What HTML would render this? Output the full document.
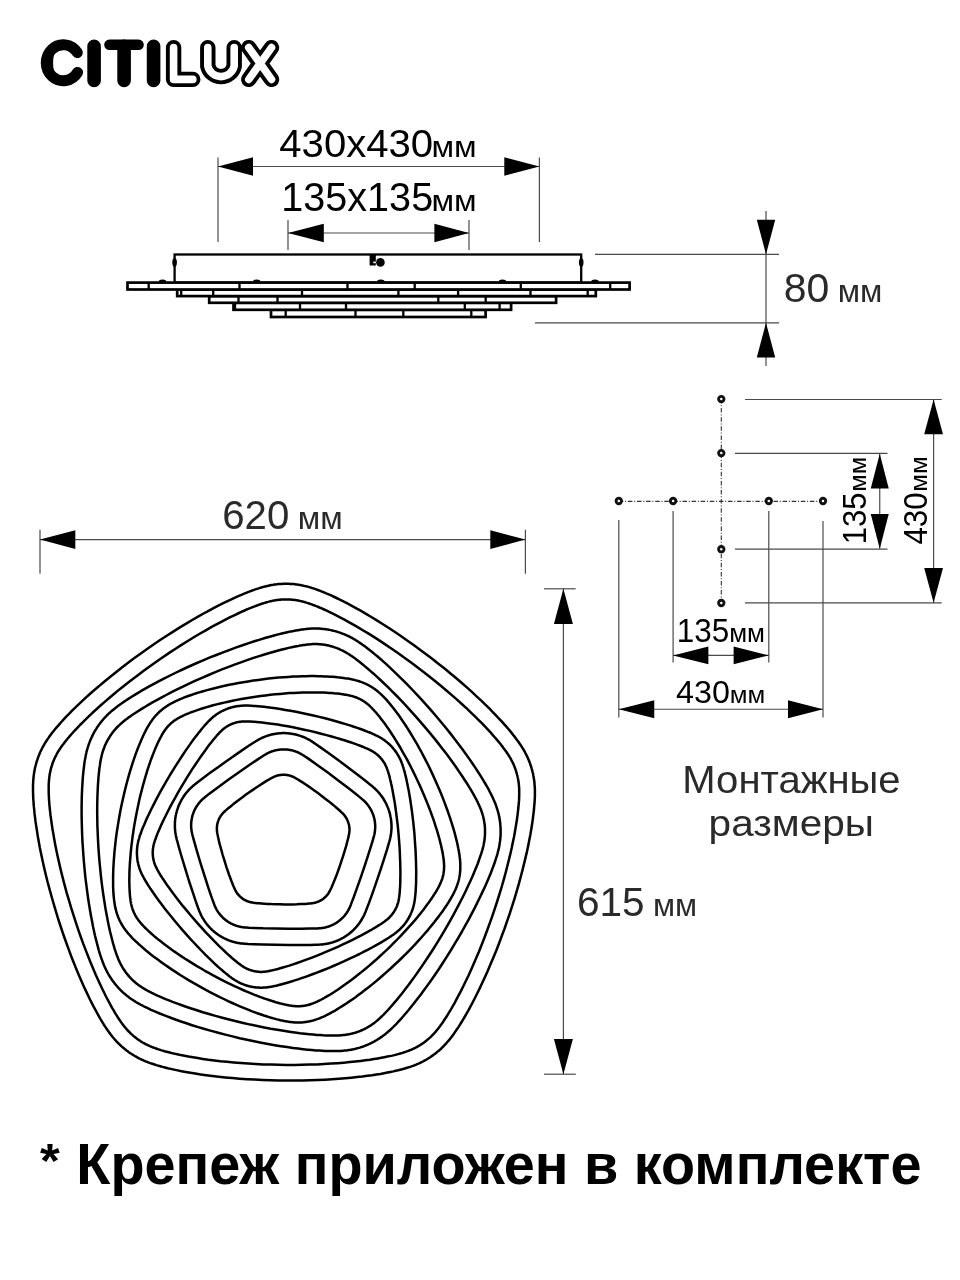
<!DOCTYPE html>
<html><head><meta charset="utf-8"><style>
html,body{margin:0;padding:0;background:#fff;}
svg{display:block;font-family:"Liberation Sans", sans-serif;}
text{-webkit-font-smoothing:antialiased;}
svg{will-change:transform;}
</style></head><body>
<svg width="960" height="1280" viewBox="0 0 960 1280">
<rect width="960" height="1280" fill="#fff"/>
<g stroke="#000" stroke-linecap="round" stroke-linejoin="round" fill="none">
<path d="M77.3 52.6 A17 18 0 1 0 77.6 72.4" stroke-width="11"/><path d="M52.6 54 Q50.6 63 52.6 72" stroke-width="3"/>
<path d="M94.1 46.4V80.4M124.1 46.4V80.4M153.6 46.4V80.4" stroke-width="13.6"/><path d="M109.5 44.8H138.5" stroke-width="10.6"/>
<path d="M173.6 47.6V79.4H192.8M207.8 47.6V66A13.5 13.4 0 0 0 234.2 66V47.6M248.8 47.6L271.5 79.4M271.5 47.6L248.8 79.4" stroke-width="15.4"/>
<path d="M173.6 47.6V79.4H192.8M207.8 47.6V66A13.5 13.4 0 0 0 234.2 66V47.6M248.8 47.6L271.5 79.4M271.5 47.6L248.8 79.4" stroke="#fff" stroke-width="7.6"/>
</g>
<line x1="218" y1="157.5" x2="218" y2="242" stroke="#4a4a4a" stroke-width="1.2"/>
<line x1="539.4" y1="157.5" x2="539.4" y2="242" stroke="#4a4a4a" stroke-width="1.2"/>
<line x1="218" y1="166.5" x2="539.4" y2="166.5" stroke="#4a4a4a" stroke-width="1.2"/>
<path d="M218 166.5L253.00 175.70L253.00 157.30Z" fill="#000"/>
<path d="M539.4 166.5L504.30 157.30L504.30 175.70Z" fill="#000"/>
<line x1="288" y1="220" x2="288" y2="250" stroke="#4a4a4a" stroke-width="1.2"/>
<line x1="469" y1="220" x2="469" y2="250" stroke="#4a4a4a" stroke-width="1.2"/>
<line x1="288" y1="233" x2="469" y2="233" stroke="#4a4a4a" stroke-width="1.2"/>
<path d="M288 233L323.80 242.20L323.80 223.80Z" fill="#000"/>
<path d="M469 233L434.40 223.80L434.40 242.20Z" fill="#000"/>
<text x="-2.50" y="0" font-size="100" fill="#000" font-weight="normal" transform="translate(280.30 157.10) scale(0.4011 0.3929)">430x430</text>
<text x="-7.00" y="0" font-size="100" fill="#000" font-weight="normal" transform="translate(433.80 157.10) scale(0.3290 0.2887)">мм</text>
<text x="-7.50" y="0" font-size="100" fill="#000" font-weight="normal" transform="translate(284.20 211.20) scale(0.3960 0.4029)">135x135</text>
<text x="-7.00" y="0" font-size="100" fill="#000" font-weight="normal" transform="translate(433.80 211.20) scale(0.3290 0.2943)">мм</text>
<g stroke="#000" stroke-width="2.7" fill="#fff">
<rect x="174.6" y="254.5" width="406.6" height="28.1" stroke-width="2.3"/>
<rect x="271.0" y="309.8" width="214.6" height="7.2"/>
<rect x="233.5" y="302.8" width="277.6" height="7.0"/>
<rect x="209.2" y="296.1" width="346.9" height="6.7"/>
<rect x="177.2" y="289.5" width="418.6" height="6.6"/>
<rect x="127.5" y="282.6" width="502.1" height="6.9"/>
</g>
<path d="M148.7 282.6V289.5M239.5 282.6V289.5M347.5 282.6V289.5M414.7 282.6V289.5M520.8 282.6V289.5M610.2 282.6V289.5M181.2 289.5V296.1M213.2 289.5V296.1M302 289.5V296.1M398.4 289.5V296.1M458.1 289.5V296.1M530.5 289.5V296.1M587.7 289.5V296.1M238.5 296.1V302.8M277.5 296.1V302.8M438.3 296.1V302.8M485.7 296.1V302.8M235 302.8V309.8M300 302.8V309.8M346 302.8V309.8M464.8 302.8V309.8M499.6 302.8V309.8M285.7 309.8V317.0M355.5 309.8V317.0M403.3 309.8V317.0M471.3 309.8V317.0" stroke="#000" stroke-width="2.3" fill="none"/>
<path d="M158.3 282.8A4.2 3.4 0 0 1 166.7 282.8Z" fill="#000"/>
<path d="M252.5 282.8A4.2 3.4 0 0 1 260.9 282.8Z" fill="#000"/>
<path d="M376.6 282.8A4.2 3.4 0 0 1 385.0 282.8Z" fill="#000"/>
<path d="M498.3 282.8A4.2 3.4 0 0 1 506.7 282.8Z" fill="#000"/>
<path d="M590.8 282.8A4.2 3.4 0 0 1 599.2 282.8Z" fill="#000"/>
<ellipse cx="174.6" cy="262.5" rx="2.3" ry="4.2" fill="#000"/>
<ellipse cx="581.2" cy="262.5" rx="2.3" ry="4.2" fill="#000"/>
<rect x="369.6" y="255" width="6.2" height="10.5" fill="#000"/><circle cx="380.4" cy="262.4" r="4.3" fill="#000"/><rect x="373.2" y="261.6" width="2.6" height="1.6" fill="#fff"/>
<line x1="595" y1="254.4" x2="779" y2="254.4" stroke="#4a4a4a" stroke-width="1.2"/>
<line x1="535" y1="322.8" x2="779" y2="322.8" stroke="#4a4a4a" stroke-width="1.2"/>
<line x1="766" y1="211" x2="766" y2="366" stroke="#4a4a4a" stroke-width="1.2"/>
<path d="M766 254.4L775.20 219.70L756.80 219.70Z" fill="#000"/>
<path d="M766 322.8L756.80 357.50L775.20 357.50Z" fill="#000"/>
<text x="-4.50" y="0" font-size="100" fill="#2a2a2a" font-weight="normal" transform="translate(785.60 302.20) scale(0.4098 0.4029)">80</text>
<text x="-7.00" y="0" font-size="100" fill="#2a2a2a" font-weight="normal" transform="translate(840.00 302.20) scale(0.3250 0.3189)">мм</text>
<line x1="40" y1="529.7" x2="40" y2="573.8" stroke="#4a4a4a" stroke-width="1.2"/>
<line x1="525.4" y1="529.7" x2="525.4" y2="573.8" stroke="#4a4a4a" stroke-width="1.2"/>
<line x1="40" y1="539.6" x2="525.4" y2="539.6" stroke="#4a4a4a" stroke-width="1.2"/>
<path d="M40 539.6L75.30 548.90L75.30 530.30Z" fill="#000"/>
<path d="M525.4 539.6L490.30 530.30L490.30 548.90Z" fill="#000"/>
<text x="-5.00" y="0" font-size="100" fill="#2a2a2a" font-weight="normal" transform="translate(224.20 528.70) scale(0.4019 0.3986)">620</text>
<text x="-7.00" y="0" font-size="100" fill="#2a2a2a" font-weight="normal" transform="translate(300.00 528.70) scale(0.3266 0.3208)">мм</text>
<line x1="544" y1="588.8" x2="575.6" y2="588.8" stroke="#4a4a4a" stroke-width="1.2"/>
<line x1="544" y1="1074.2" x2="575.8" y2="1074.2" stroke="#4a4a4a" stroke-width="1.2"/>
<line x1="563.4" y1="588.8" x2="563.4" y2="1074.2" stroke="#4a4a4a" stroke-width="1.2"/>
<path d="M563.4 588.8L553.90 624.00L572.90 624.00Z" fill="#000"/>
<path d="M563.4 1074.2L572.90 1039.00L553.90 1039.00Z" fill="#000"/>
<text x="-5.00" y="0" font-size="100" fill="#2a2a2a" font-weight="normal" transform="translate(579.00 916.10) scale(0.4057 0.4043)">615</text>
<text x="-7.00" y="0" font-size="100" fill="#2a2a2a" font-weight="normal" transform="translate(655.30 916.10) scale(0.3210 0.3132)">мм</text>
<line x1="721.3" y1="399" x2="721.3" y2="603" stroke="#333" stroke-width="1.1" stroke-dasharray="4.5 1.8 1 1.8"/>
<line x1="618.8" y1="501.4" x2="823" y2="501.4" stroke="#333" stroke-width="1.1" stroke-dasharray="4.5 1.8 1 1.8"/>
<circle cx="721.3" cy="399.1" r="2.7" fill="#fff" stroke="#111" stroke-width="2.9"/>
<circle cx="721.3" cy="453.1" r="2.7" fill="#fff" stroke="#111" stroke-width="2.9"/>
<circle cx="721.3" cy="549.2" r="2.7" fill="#fff" stroke="#111" stroke-width="2.9"/>
<circle cx="721.3" cy="603" r="2.7" fill="#fff" stroke="#111" stroke-width="2.9"/>
<circle cx="618.8" cy="501" r="2.7" fill="#fff" stroke="#111" stroke-width="2.9"/>
<circle cx="673.1" cy="501" r="2.7" fill="#fff" stroke="#111" stroke-width="2.9"/>
<circle cx="768.8" cy="501" r="2.7" fill="#fff" stroke="#111" stroke-width="2.9"/>
<circle cx="823" cy="501" r="2.7" fill="#fff" stroke="#111" stroke-width="2.9"/>
<line x1="745" y1="399.5" x2="941.7" y2="399.5" stroke="#4a4a4a" stroke-width="1.2"/>
<line x1="745" y1="602.8" x2="941.7" y2="602.8" stroke="#4a4a4a" stroke-width="1.2"/>
<line x1="735" y1="453.3" x2="887.5" y2="453.3" stroke="#4a4a4a" stroke-width="1.2"/>
<line x1="735" y1="549.1" x2="887.5" y2="549.1" stroke="#4a4a4a" stroke-width="1.2"/>
<line x1="618.8" y1="520" x2="618.8" y2="717.5" stroke="#4a4a4a" stroke-width="1.2"/>
<line x1="823" y1="521" x2="823" y2="717.5" stroke="#4a4a4a" stroke-width="1.2"/>
<line x1="673.1" y1="511" x2="673.1" y2="662.5" stroke="#4a4a4a" stroke-width="1.2"/>
<line x1="768.8" y1="511" x2="768.8" y2="662.5" stroke="#4a4a4a" stroke-width="1.2"/>
<line x1="879.75" y1="453.75" x2="879.75" y2="548.75" stroke="#4a4a4a" stroke-width="1.2"/>
<path d="M879.75 453.75L870.75 488.50L888.75 488.50Z" fill="#000"/>
<path d="M879.75 548.75L888.75 514.00L870.75 514.00Z" fill="#000"/>
<line x1="933.6" y1="399.5" x2="933.6" y2="602.8" stroke="#4a4a4a" stroke-width="1.2"/>
<path d="M933.6 399.5L924.20 434.30L943.00 434.30Z" fill="#000"/>
<path d="M933.6 602.8L943.00 568.00L924.20 568.00Z" fill="#000"/>
<line x1="673.1" y1="655.4" x2="768.8" y2="655.4" stroke="#4a4a4a" stroke-width="1.2"/>
<path d="M673.1 655.4L708.40 664.30L708.40 646.50Z" fill="#000"/>
<path d="M768.8 655.4L733.60 646.50L733.60 664.30Z" fill="#000"/>
<line x1="618.8" y1="709.25" x2="823" y2="709.25" stroke="#4a4a4a" stroke-width="1.2"/>
<path d="M618.8 709.25L654.25 718.25L654.25 700.25Z" fill="#000"/>
<path d="M823 709.25L788.00 700.25L788.00 718.25Z" fill="#000"/>
<text x="-7.50" y="0" font-size="100" fill="#000" font-weight="normal" transform="translate(679.00 641.60) scale(0.3148 0.3229)">135</text>
<text x="-7.00" y="0" font-size="100" fill="#000" font-weight="normal" transform="translate(731.00 641.60) scale(0.2605 0.2491)">мм</text>
<text x="-2.50" y="0" font-size="100" fill="#000" font-weight="normal" transform="translate(676.80 702.50) scale(0.3231 0.3186)">430</text>
<text x="-7.00" y="0" font-size="100" fill="#000" font-weight="normal" transform="translate(731.50 702.50) scale(0.2581 0.2453)">мм</text>
<text x="-7.50" y="0" font-size="100" fill="#000" transform="translate(865.90 541.90) rotate(-90) scale(0.3106 0.3257)">135</text>
<text x="-7.00" y="0" font-size="100" fill="#000" transform="translate(865.90 490.00) rotate(-90) scale(0.2540 0.2453)">мм</text>
<text x="-2.50" y="0" font-size="100" fill="#000" transform="translate(926.90 543.75) rotate(-90) scale(0.3125 0.3271)">430</text>
<text x="-7.00" y="0" font-size="100" fill="#000" transform="translate(926.90 490.00) rotate(-90) scale(0.2573 0.2453)">мм</text>
<text x="-8.00" y="0" font-size="100" fill="#2a2a2a" font-weight="normal" transform="translate(685.50 793.00) scale(0.4005 0.3877)">Монтажные</text>
<text x="-6.50" y="0" font-size="100" fill="#2a2a2a" font-weight="normal" transform="translate(711.25 836.25) scale(0.4056 0.3704)">размеры</text>
<path d="M286.5 583.8L287.5 583.8L288.4 583.8L289.3 583.8L290.3 583.9L291.2 583.9L292.1 584.0L293.1 584.1L294.0 584.1L294.9 584.2L295.9 584.4L296.8 584.5L297.8 584.6L298.7 584.8L299.6 584.9L300.6 585.1L301.5 585.3L302.5 585.4L303.5 585.7L304.5 585.9L305.4 586.1L306.5 586.4L307.5 586.6L308.6 586.9L309.7 587.3L310.9 587.6L312.1 588.0L313.4 588.4L314.8 588.9L316.3 589.4L317.8 590.0L319.6 590.6L321.4 591.3L323.4 592.1L325.6 593.1L328.0 594.1L330.6 595.2L333.4 596.5L336.5 598.0L339.8 599.6L343.4 601.4L347.3 603.4L351.4 605.6L355.9 608.1L360.6 610.7L365.6 613.6L370.9 616.8L376.4 620.1L382.2 623.7L388.1 627.5L394.2 631.5L400.5 635.8L406.8 640.2L413.3 644.7L419.7 649.4L426.1 654.2L432.5 659.0L438.7 663.9L444.9 668.8L450.8 673.7L456.6 678.5L462.1 683.3L467.4 687.9L472.4 692.4L477.1 696.8L481.5 700.9L485.6 704.9L489.5 708.7L493.0 712.3L496.2 715.6L499.2 718.8L501.9 721.7L504.3 724.4L506.6 726.9L508.6 729.2L510.4 731.4L512.0 733.4L513.4 735.2L514.8 736.9L515.9 738.4L517.0 739.9L518.0 741.2L518.9 742.5L519.7 743.7L520.5 744.8L521.2 745.9L521.8 746.9L522.4 747.9L523.0 748.8L523.6 749.7L524.1 750.7L524.6 751.5L525.1 752.4L525.5 753.3L526.0 754.2L526.4 755.0L526.8 755.9L527.3 756.8L527.6 757.6L528.0 758.5L528.4 759.4L528.8 760.2L529.1 761.1L529.5 762.0L529.8 762.8L530.1 763.7L530.4 764.6L530.7 765.5L531.0 766.4L531.3 767.3L531.6 768.2L531.8 769.1L532.1 770.0L532.3 770.9L532.5 771.8L532.8 772.7L533.0 773.6L533.2 774.6L533.3 775.5L533.5 776.4L533.7 777.4L533.8 778.3L534.0 779.2L534.1 780.2L534.2 781.1L534.4 782.1L534.5 783.1L534.5 784.1L534.6 785.1L534.7 786.2L534.8 787.3L534.8 788.4L534.9 789.5L534.9 790.8L534.9 792.0L534.9 793.4L534.9 794.9L534.9 796.4L534.8 798.1L534.7 799.9L534.6 801.9L534.4 804.1L534.2 806.4L534.0 809.0L533.7 811.8L533.3 814.9L532.9 818.3L532.4 822.0L531.8 826.0L531.1 830.3L530.3 834.9L529.3 839.9L528.3 845.2L527.1 850.9L525.7 856.9L524.2 863.1L522.6 869.7L520.8 876.5L518.9 883.6L516.8 890.9L514.6 898.3L512.2 905.8L509.8 913.3L507.2 920.9L504.6 928.5L501.8 935.9L499.1 943.3L496.3 950.5L493.4 957.4L490.6 964.1L487.9 970.6L485.1 976.7L482.4 982.6L479.8 988.1L477.3 993.2L474.9 998.0L472.6 1002.5L470.4 1006.6L468.4 1010.4L466.4 1013.9L464.6 1017.0L462.9 1019.9L461.3 1022.5L459.8 1024.9L458.4 1027.1L457.1 1029.0L455.9 1030.8L454.8 1032.4L453.8 1033.9L452.8 1035.2L451.9 1036.5L451.0 1037.6L450.2 1038.7L449.4 1039.7L448.6 1040.6L447.8 1041.5L447.1 1042.3L446.4 1043.1L445.7 1043.9L445.0 1044.7L444.3 1045.4L443.6 1046.1L442.9 1046.8L442.3 1047.5L441.6 1048.2L440.9 1048.8L440.2 1049.5L439.5 1050.1L438.8 1050.7L438.0 1051.3L437.3 1051.9L436.6 1052.5L435.9 1053.1L435.1 1053.7L434.4 1054.3L433.6 1054.8L432.9 1055.4L432.1 1055.9L431.3 1056.4L430.6 1057.0L429.8 1057.5L429.0 1058.0L428.2 1058.5L427.4 1059.0L426.6 1059.5L425.8 1059.9L424.9 1060.4L424.1 1060.8L423.3 1061.3L422.4 1061.7L421.6 1062.2L420.7 1062.6L419.8 1063.0L419.0 1063.4L418.0 1063.8L417.1 1064.2L416.2 1064.6L415.2 1065.0L414.2 1065.4L413.1 1065.8L412.0 1066.2L410.9 1066.6L409.7 1067.0L408.4 1067.4L407.0 1067.8L405.5 1068.3L403.9 1068.8L402.1 1069.2L400.2 1069.7L398.1 1070.3L395.8 1070.8L393.3 1071.4L390.5 1072.0L387.4 1072.6L384.1 1073.2L380.4 1073.9L376.5 1074.5L372.1 1075.2L367.5 1075.8L362.4 1076.5L357.1 1077.1L351.3 1077.7L345.2 1078.3L338.8 1078.8L332.0 1079.3L325.0 1079.7L317.6 1080.0L310.1 1080.3L302.4 1080.5L294.5 1080.6L286.6 1080.6L278.6 1080.5L270.6 1080.3L262.6 1080.0L254.8 1079.6L247.1 1079.2L239.6 1078.7L232.3 1078.1L225.3 1077.4L218.6 1076.7L212.3 1076.0L206.2 1075.2L200.6 1074.4L195.3 1073.6L190.3 1072.8L185.7 1072.0L181.5 1071.2L177.6 1070.4L174.0 1069.6L170.7 1068.9L167.7 1068.2L165.0 1067.5L162.5 1066.9L160.3 1066.2L158.2 1065.6L156.3 1065.1L154.6 1064.5L153.0 1064.0L151.6 1063.5L150.2 1063.1L148.9 1062.6L147.7 1062.2L146.6 1061.7L145.5 1061.3L144.5 1060.8L143.5 1060.4L142.6 1060.0L141.6 1059.6L140.7 1059.1L139.8 1058.7L139.0 1058.3L138.1 1057.8L137.3 1057.4L136.4 1056.9L135.6 1056.4L134.8 1056.0L134.0 1055.5L133.2 1055.0L132.4 1054.5L131.6 1054.0L130.8 1053.5L130.0 1053.0L129.2 1052.4L128.5 1051.9L127.7 1051.3L127.0 1050.8L126.2 1050.2L125.5 1049.6L124.7 1049.0L124.0 1048.4L123.3 1047.8L122.6 1047.2L121.9 1046.6L121.2 1046.0L120.5 1045.3L119.8 1044.7L119.1 1044.0L118.4 1043.4L117.8 1042.7L117.1 1042.0L116.4 1041.3L115.8 1040.6L115.1 1039.8L114.4 1039.1L113.8 1038.3L113.1 1037.5L112.4 1036.7L111.7 1035.8L111.0 1034.9L110.3 1033.9L109.5 1032.9L108.7 1031.8L107.8 1030.6L107.0 1029.3L106.0 1027.9L105.0 1026.4L103.9 1024.7L102.8 1022.9L101.6 1020.8L100.2 1018.6L98.8 1016.1L97.3 1013.4L95.7 1010.4L93.9 1007.2L92.1 1003.6L90.1 999.7L88.1 995.5L85.9 990.9L83.6 985.9L81.3 980.7L78.8 975.0L76.3 969.1L73.8 962.8L71.2 956.2L68.7 949.4L66.1 942.3L63.5 935.0L61.0 927.5L58.5 920.0L56.2 912.3L53.9 904.7L51.7 897.0L49.6 889.4L47.6 882.0L45.8 874.7L44.1 867.6L42.6 860.8L41.2 854.2L39.9 847.9L38.8 841.9L37.8 836.3L37.0 831.0L36.2 826.0L35.5 821.4L35.0 817.1L34.5 813.2L34.2 809.5L33.8 806.2L33.6 803.1L33.4 800.3L33.2 797.8L33.1 795.4L33.1 793.3L33.0 791.3L33.0 789.5L33.0 787.9L33.0 786.3L33.0 784.9L33.1 783.5L33.2 782.3L33.2 781.0L33.3 779.9L33.4 778.8L33.5 777.7L33.6 776.7L33.7 775.6L33.9 774.6L34.0 773.7L34.1 772.7L34.3 771.7L34.5 770.8L34.6 769.9L34.8 768.9L35.0 768.0L35.2 767.1L35.4 766.2L35.7 765.3L35.9 764.3L36.2 763.4L36.4 762.5L36.7 761.6L37.0 760.7L37.3 759.9L37.6 759.0L37.9 758.1L38.2 757.2L38.5 756.3L38.9 755.4L39.2 754.6L39.6 753.7L39.9 752.8L40.3 752.0L40.7 751.1L41.1 750.3L41.5 749.4L42.0 748.6L42.4 747.7L42.9 746.9L43.3 746.0L43.8 745.2L44.3 744.3L44.8 743.5L45.3 742.6L45.9 741.7L46.5 740.8L47.1 739.8L47.8 738.9L48.5 737.9L49.2 736.8L50.0 735.7L50.9 734.5L51.8 733.3L52.8 732.0L54.0 730.6L55.2 729.0L56.6 727.4L58.2 725.6L59.9 723.6L61.8 721.5L63.9 719.2L66.2 716.7L68.8 714.1L71.6 711.2L74.7 708.1L78.1 704.9L81.8 701.4L85.8 697.7L90.1 693.8L94.7 689.8L99.6 685.6L104.8 681.2L110.3 676.7L116.0 672.2L121.9 667.5L128.1 662.8L134.4 658.1L140.8 653.5L147.4 648.8L153.9 644.3L160.5 639.8L167.1 635.5L173.6 631.4L179.9 627.4L186.2 623.6L192.2 620.0L198.0 616.7L203.6 613.5L209.0 610.6L214.0 607.9L218.8 605.4L223.3 603.2L227.5 601.1L231.4 599.3L235.0 597.6L238.3 596.1L241.4 594.8L244.2 593.6L246.8 592.6L249.2 591.7L251.4 590.8L253.4 590.1L255.3 589.4L257.0 588.9L258.6 588.4L260.0 587.9L261.4 587.5L262.7 587.1L263.9 586.8L265.1 586.5L266.2 586.2L267.3 585.9L268.4 585.7L269.4 585.5L270.4 585.3L271.4 585.1L272.4 584.9L273.3 584.8L274.3 584.6L275.2 584.5L276.2 584.4L277.1 584.2L278.1 584.1L279.0 584.1L280.0 584.0L280.9 583.9L281.8 583.9L282.8 583.8L283.7 583.8L284.6 583.8L285.6 583.8ZM286.4 599.4L287.2 599.4L287.9 599.4L288.7 599.5L289.4 599.5L290.2 599.5L291.0 599.6L291.7 599.7L292.5 599.7L293.2 599.8L294.0 599.9L294.7 600.0L295.5 600.1L296.2 600.2L297.0 600.3L297.8 600.5L298.6 600.6L299.3 600.8L300.1 600.9L300.9 601.1L301.7 601.3L302.6 601.5L303.5 601.8L304.4 602.0L305.3 602.3L306.3 602.6L307.4 602.9L308.5 603.3L309.7 603.7L311.0 604.1L312.4 604.7L313.9 605.2L315.6 605.9L317.5 606.6L319.5 607.5L321.7 608.4L324.1 609.5L326.8 610.7L329.7 612.1L332.9 613.7L336.3 615.4L340.0 617.3L344.0 619.4L348.3 621.8L352.9 624.3L357.7 627.1L362.8 630.2L368.2 633.4L373.8 636.9L379.6 640.6L385.6 644.6L391.7 648.7L397.9 653.0L404.1 657.4L410.4 662.0L416.7 666.7L422.9 671.4L429.0 676.2L435.0 681.0L440.8 685.7L446.4 690.5L451.8 695.1L457.0 699.6L461.8 704.0L466.4 708.2L470.7 712.3L474.7 716.1L478.4 719.8L481.8 723.2L484.9 726.4L487.7 729.4L490.3 732.2L492.6 734.8L494.7 737.2L496.6 739.4L498.3 741.4L499.8 743.2L501.2 744.9L502.4 746.5L503.4 747.9L504.4 749.2L505.3 750.4L506.1 751.5L506.8 752.5L507.4 753.5L508.0 754.4L508.6 755.3L509.1 756.1L509.6 756.9L510.1 757.7L510.5 758.4L510.9 759.1L511.3 759.9L511.7 760.6L512.0 761.3L512.4 762.0L512.7 762.7L513.1 763.4L513.4 764.1L513.7 764.8L514.0 765.5L514.3 766.2L514.6 766.9L514.8 767.6L515.1 768.3L515.4 769.0L515.6 769.7L515.9 770.4L516.1 771.1L516.3 771.9L516.5 772.6L516.7 773.3L516.9 774.0L517.1 774.8L517.3 775.5L517.5 776.3L517.7 777.0L517.8 777.7L518.0 778.5L518.1 779.2L518.2 780.0L518.4 780.7L518.5 781.5L518.6 782.3L518.7 783.1L518.8 783.8L518.9 784.7L518.9 785.5L519.0 786.3L519.1 787.2L519.1 788.1L519.2 789.0L519.2 790.0L519.2 791.0L519.2 792.1L519.2 793.3L519.2 794.6L519.2 796.0L519.1 797.5L519.1 799.1L519.0 800.9L518.8 802.9L518.6 805.1L518.4 807.5L518.1 810.1L517.8 813.0L517.4 816.2L516.9 819.7L516.3 823.5L515.6 827.6L514.9 832.1L514.0 836.9L512.9 842.0L511.8 847.5L510.5 853.3L509.0 859.4L507.4 865.8L505.7 872.5L503.8 879.4L501.8 886.5L499.6 893.7L497.3 901.0L494.9 908.4L492.4 915.8L489.8 923.2L487.1 930.5L484.4 937.7L481.7 944.7L479.0 951.5L476.2 958.0L473.5 964.3L470.9 970.3L468.3 976.0L465.7 981.3L463.3 986.3L461.0 990.9L458.7 995.2L456.6 999.2L454.7 1002.8L452.8 1006.1L451.1 1009.1L449.4 1011.8L447.9 1014.3L446.6 1016.5L445.3 1018.5L444.1 1020.3L443.0 1022.0L442.0 1023.4L441.0 1024.7L440.2 1025.9L439.4 1027.0L438.6 1028.0L437.9 1029.0L437.2 1029.8L436.5 1030.6L435.9 1031.4L435.3 1032.1L434.7 1032.7L434.1 1033.4L433.6 1034.0L433.0 1034.6L432.4 1035.2L431.9 1035.7L431.3 1036.3L430.8 1036.8L430.2 1037.4L429.6 1037.9L429.1 1038.4L428.5 1038.9L427.9 1039.4L427.3 1039.9L426.7 1040.4L426.2 1040.8L425.6 1041.3L425.0 1041.8L424.4 1042.2L423.7 1042.7L423.1 1043.1L422.5 1043.5L421.9 1043.9L421.2 1044.4L420.6 1044.8L420.0 1045.2L419.3 1045.6L418.7 1045.9L418.0 1046.3L417.4 1046.7L416.7 1047.1L416.0 1047.4L415.3 1047.8L414.6 1048.1L413.9 1048.5L413.2 1048.8L412.5 1049.1L411.8 1049.5L411.0 1049.8L410.2 1050.1L409.4 1050.4L408.6 1050.8L407.7 1051.1L406.8 1051.4L405.8 1051.8L404.8 1052.1L403.6 1052.5L402.4 1052.9L401.1 1053.3L399.6 1053.7L398.1 1054.1L396.3 1054.6L394.4 1055.1L392.3 1055.6L389.9 1056.1L387.3 1056.6L384.4 1057.2L381.3 1057.8L377.8 1058.4L374.0 1059.0L369.9 1059.7L365.4 1060.3L360.5 1060.9L355.3 1061.5L349.8 1062.1L343.8 1062.7L337.6 1063.2L331.0 1063.6L324.1 1064.0L317.0 1064.4L309.6 1064.6L302.1 1064.8L294.4 1064.9L286.6 1064.9L278.8 1064.8L271.0 1064.6L263.2 1064.4L255.6 1064.0L248.1 1063.6L240.8 1063.1L233.7 1062.5L226.9 1061.8L220.4 1061.2L214.2 1060.4L208.3 1059.7L202.8 1058.9L197.7 1058.1L192.9 1057.3L188.5 1056.6L184.5 1055.8L180.7 1055.1L177.3 1054.3L174.2 1053.6L171.4 1053.0L168.9 1052.3L166.6 1051.7L164.5 1051.2L162.6 1050.6L160.9 1050.1L159.4 1049.6L158.0 1049.2L156.7 1048.7L155.5 1048.3L154.4 1047.9L153.4 1047.5L152.4 1047.2L151.5 1046.8L150.6 1046.4L149.8 1046.1L149.0 1045.7L148.3 1045.4L147.5 1045.0L146.8 1044.7L146.1 1044.3L145.4 1044.0L144.7 1043.6L144.0 1043.2L143.3 1042.8L142.7 1042.5L142.0 1042.1L141.4 1041.7L140.7 1041.3L140.1 1040.9L139.5 1040.4L138.8 1040.0L138.2 1039.6L137.6 1039.2L137.0 1038.7L136.4 1038.3L135.8 1037.8L135.2 1037.3L134.6 1036.9L134.0 1036.4L133.4 1035.9L132.9 1035.4L132.3 1034.9L131.7 1034.4L131.2 1033.9L130.6 1033.4L130.1 1032.8L129.5 1032.3L129.0 1031.7L128.4 1031.2L127.9 1030.6L127.4 1030.0L126.8 1029.4L126.3 1028.8L125.7 1028.2L125.2 1027.5L124.6 1026.8L124.0 1026.1L123.4 1025.3L122.8 1024.5L122.1 1023.6L121.4 1022.6L120.7 1021.6L119.9 1020.5L119.1 1019.2L118.1 1017.8L117.2 1016.3L116.1 1014.6L115.0 1012.8L113.8 1010.7L112.4 1008.4L111.0 1005.8L109.5 1003.0L107.8 999.9L106.0 996.5L104.2 992.7L102.2 988.7L100.1 984.3L97.9 979.5L95.6 974.4L93.3 968.9L90.8 963.1L88.4 957.0L85.9 950.6L83.3 943.9L80.8 937.0L78.3 929.9L75.9 922.6L73.5 915.2L71.1 907.7L68.9 900.2L66.7 892.8L64.7 885.4L62.8 878.1L61.0 871.0L59.4 864.1L57.9 857.4L56.5 851.0L55.3 844.9L54.2 839.1L53.3 833.6L52.4 828.5L51.7 823.7L51.1 819.3L50.5 815.2L50.1 811.4L49.7 808.0L49.4 804.8L49.2 801.9L49.0 799.3L48.9 796.9L48.8 794.8L48.7 792.8L48.7 791.1L48.7 789.4L48.7 787.9L48.7 786.6L48.7 785.3L48.7 784.2L48.8 783.1L48.9 782.0L48.9 781.1L49.0 780.1L49.1 779.2L49.2 778.4L49.3 777.6L49.4 776.7L49.5 775.9L49.6 775.2L49.7 774.4L49.9 773.6L50.0 772.9L50.2 772.1L50.3 771.4L50.5 770.6L50.7 769.9L50.8 769.1L51.0 768.4L51.2 767.7L51.4 766.9L51.7 766.2L51.9 765.5L52.1 764.8L52.4 764.1L52.6 763.3L52.9 762.6L53.1 761.9L53.4 761.2L53.7 760.5L54.0 759.8L54.3 759.1L54.6 758.4L54.9 757.7L55.2 757.1L55.6 756.4L55.9 755.7L56.3 755.0L56.6 754.3L57.0 753.6L57.4 752.9L57.8 752.2L58.2 751.5L58.7 750.8L59.1 750.1L59.6 749.3L60.1 748.5L60.7 747.7L61.3 746.8L61.9 745.9L62.6 745.0L63.4 744.0L64.2 742.9L65.1 741.7L66.2 740.4L67.3 739.0L68.6 737.5L70.0 735.8L71.6 734.0L73.4 732.0L75.4 729.9L77.6 727.6L80.0 725.0L82.7 722.3L85.7 719.3L89.0 716.2L92.5 712.8L96.4 709.3L100.5 705.5L105.0 701.6L109.8 697.5L114.8 693.3L120.1 688.9L125.7 684.5L131.5 679.9L137.5 675.4L143.7 670.8L150.0 666.2L156.3 661.7L162.8 657.2L169.2 652.9L175.6 648.7L181.9 644.6L188.2 640.7L194.2 637.0L200.1 633.5L205.8 630.3L211.2 627.2L216.4 624.4L221.3 621.8L225.9 619.4L230.2 617.2L234.2 615.3L238.0 613.5L241.4 611.9L244.6 610.5L247.5 609.2L250.2 608.1L252.6 607.1L254.8 606.3L256.9 605.5L258.7 604.8L260.4 604.3L261.9 603.7L263.3 603.3L264.6 602.9L265.8 602.5L266.9 602.2L268.0 601.9L269.0 601.6L269.9 601.4L270.8 601.2L271.7 601.0L272.6 600.8L273.4 600.6L274.2 600.5L275.0 600.4L275.8 600.2L276.6 600.1L277.3 600.0L278.1 599.9L278.9 599.8L279.6 599.7L280.4 599.7L281.1 599.6L281.9 599.5L282.6 599.5L283.4 599.5L284.2 599.4L284.9 599.4L285.7 599.4ZM315.6 628.5L316.5 628.5L317.4 628.5L318.3 628.6L319.2 628.6L320.1 628.7L321.0 628.7L321.8 628.8L322.7 628.9L323.6 629.0L324.5 629.1L325.4 629.2L326.2 629.3L327.1 629.4L328.0 629.6L328.9 629.7L329.7 629.9L330.6 630.1L331.5 630.3L332.3 630.5L333.2 630.7L334.1 630.9L334.9 631.1L335.8 631.3L336.6 631.6L337.5 631.8L338.3 632.1L339.2 632.4L340.0 632.7L340.8 633.0L341.7 633.3L342.5 633.6L343.3 633.9L344.2 634.2L345.0 634.6L345.8 634.9L346.6 635.3L347.4 635.7L348.2 636.0L349.1 636.4L349.9 636.9L350.7 637.3L351.5 637.7L352.4 638.2L353.2 638.7L354.1 639.2L355.0 639.7L355.9 640.3L356.9 640.9L357.9 641.5L359.0 642.3L360.2 643.1L361.5 643.9L362.9 644.9L364.4 646.0L366.1 647.3L367.9 648.7L369.9 650.3L372.2 652.0L374.6 654.1L377.3 656.3L380.2 658.8L383.4 661.6L386.8 664.7L390.5 668.1L394.4 671.8L398.5 675.8L402.9 680.1L407.4 684.6L412.1 689.5L416.9 694.6L421.8 699.8L426.7 705.3L431.6 710.9L436.4 716.5L441.2 722.2L445.8 727.8L450.3 733.4L454.6 738.9L458.6 744.2L462.4 749.3L466.0 754.2L469.3 758.9L472.3 763.3L475.1 767.4L477.6 771.2L479.8 774.7L481.8 777.9L483.6 780.8L485.2 783.5L486.6 785.9L487.9 788.2L489.0 790.2L489.9 792.0L490.8 793.6L491.5 795.1L492.2 796.5L492.8 797.8L493.3 798.9L493.8 800.1L494.3 801.1L494.7 802.1L495.1 803.1L495.5 804.0L495.8 804.9L496.1 805.8L496.4 806.7L496.7 807.6L497.0 808.5L497.3 809.3L497.6 810.2L497.8 811.0L498.0 811.9L498.3 812.8L498.5 813.6L498.7 814.5L498.9 815.4L499.1 816.2L499.2 817.1L499.4 818.0L499.5 818.8L499.7 819.7L499.8 820.6L500.0 821.5L500.1 822.3L500.2 823.2L500.3 824.1L500.3 825.0L500.4 825.9L500.5 826.8L500.5 827.6L500.6 828.5L500.6 829.4L500.6 830.3L500.6 831.2L500.6 832.1L500.6 833.0L500.6 833.8L500.6 834.7L500.5 835.6L500.5 836.5L500.4 837.4L500.3 838.3L500.3 839.2L500.2 840.0L500.1 840.9L499.9 841.8L499.8 842.7L499.7 843.6L499.5 844.5L499.4 845.5L499.2 846.4L499.0 847.4L498.8 848.4L498.6 849.4L498.3 850.4L498.0 851.6L497.7 852.8L497.4 854.0L497.0 855.4L496.5 856.9L496.0 858.5L495.4 860.3L494.8 862.3L494.0 864.5L493.1 866.9L492.1 869.5L491.0 872.5L489.7 875.7L488.2 879.3L486.5 883.2L484.6 887.4L482.5 891.9L480.2 896.8L477.7 901.9L475.0 907.4L472.0 913.1L468.9 919.1L465.5 925.2L462.0 931.5L458.3 937.8L454.5 944.2L450.7 950.5L446.7 956.8L442.8 963.0L438.9 969.0L435.0 974.7L431.2 980.2L427.5 985.4L423.9 990.3L420.5 994.9L417.3 999.1L414.2 1003.0L411.4 1006.6L408.8 1009.8L406.3 1012.7L404.1 1015.3L402.0 1017.7L400.1 1019.8L398.4 1021.6L396.9 1023.3L395.4 1024.8L394.1 1026.1L392.9 1027.3L391.8 1028.3L390.8 1029.3L389.9 1030.2L388.9 1031.0L388.1 1031.7L387.3 1032.5L386.5 1033.1L385.7 1033.8L384.9 1034.4L384.2 1035.0L383.4 1035.5L382.7 1036.1L382.0 1036.6L381.2 1037.1L380.5 1037.6L379.7 1038.1L379.0 1038.6L378.2 1039.1L377.5 1039.6L376.7 1040.0L376.0 1040.5L375.2 1040.9L374.4 1041.4L373.6 1041.8L372.9 1042.2L372.1 1042.6L371.3 1043.0L370.5 1043.4L369.7 1043.8L368.9 1044.2L368.1 1044.5L367.3 1044.9L366.4 1045.2L365.6 1045.5L364.8 1045.9L364.0 1046.2L363.1 1046.5L362.3 1046.8L361.5 1047.1L360.6 1047.3L359.8 1047.6L358.9 1047.9L358.1 1048.1L357.2 1048.3L356.3 1048.6L355.5 1048.8L354.6 1049.0L353.7 1049.2L352.9 1049.4L352.0 1049.5L351.1 1049.7L350.2 1049.9L349.3 1050.0L348.4 1050.1L347.5 1050.3L346.5 1050.4L345.6 1050.5L344.6 1050.6L343.5 1050.7L342.4 1050.8L341.3 1050.9L340.0 1051.0L338.7 1051.0L337.3 1051.1L335.7 1051.1L334.0 1051.1L332.2 1051.1L330.1 1051.1L327.8 1051.0L325.2 1051.0L322.3 1050.8L319.2 1050.6L315.7 1050.4L311.9 1050.1L307.6 1049.7L303.1 1049.2L298.1 1048.6L292.8 1047.9L287.1 1047.1L281.0 1046.2L274.7 1045.2L268.0 1044.0L261.2 1042.7L254.1 1041.3L247.0 1039.8L239.7 1038.2L232.5 1036.4L225.3 1034.6L218.2 1032.8L211.3 1030.9L204.6 1029.0L198.2 1027.1L192.1 1025.2L186.4 1023.3L181.0 1021.5L176.0 1019.7L171.3 1018.0L167.1 1016.4L163.2 1014.9L159.7 1013.5L156.5 1012.1L153.6 1010.9L151.0 1009.8L148.7 1008.7L146.7 1007.7L144.8 1006.8L143.2 1006.0L141.7 1005.2L140.3 1004.5L139.1 1003.8L138.0 1003.2L136.9 1002.6L135.9 1002.0L135.0 1001.4L134.1 1000.9L133.3 1000.3L132.5 999.8L131.7 999.3L130.9 998.7L130.1 998.2L129.4 997.7L128.7 997.1L128.0 996.6L127.3 996.0L126.6 995.5L125.9 994.9L125.2 994.3L124.5 993.8L123.9 993.2L123.2 992.6L122.5 992.0L121.9 991.4L121.3 990.8L120.6 990.1L120.0 989.5L119.4 988.9L118.8 988.2L118.2 987.6L117.6 986.9L117.0 986.2L116.4 985.6L115.9 984.9L115.3 984.2L114.7 983.5L114.2 982.8L113.7 982.1L113.1 981.4L112.6 980.7L112.1 980.0L111.6 979.2L111.1 978.5L110.6 977.8L110.1 977.0L109.7 976.3L109.2 975.5L108.7 974.7L108.3 974.0L107.9 973.2L107.4 972.4L107.0 971.6L106.6 970.8L106.2 970.0L105.8 969.1L105.3 968.2L104.9 967.4L104.5 966.4L104.1 965.5L103.7 964.5L103.3 963.4L102.8 962.2L102.3 961.0L101.9 959.7L101.3 958.2L100.8 956.6L100.2 954.8L99.6 952.8L98.9 950.6L98.2 948.1L97.5 945.4L96.7 942.3L95.8 938.9L94.9 935.2L94.0 931.0L93.0 926.5L92.1 921.6L91.1 916.4L90.1 910.7L89.1 904.7L88.1 898.3L87.2 891.6L86.3 884.7L85.4 877.6L84.7 870.3L84.0 862.9L83.4 855.5L82.9 848.1L82.4 840.8L82.1 833.6L81.9 826.7L81.7 820.0L81.6 813.6L81.6 807.5L81.7 801.9L81.8 796.5L82.0 791.6L82.2 787.1L82.5 782.9L82.7 779.1L83.0 775.7L83.3 772.6L83.6 769.8L83.9 767.3L84.2 765.0L84.4 763.0L84.7 761.1L85.0 759.5L85.3 758.0L85.5 756.6L85.8 755.3L86.0 754.1L86.3 753.0L86.5 751.9L86.8 750.9L87.0 750.0L87.3 749.0L87.6 748.1L87.8 747.2L88.1 746.3L88.4 745.5L88.7 744.6L89.0 743.7L89.3 742.9L89.6 742.1L89.9 741.2L90.3 740.4L90.6 739.6L91.0 738.8L91.3 738.0L91.7 737.2L92.1 736.4L92.5 735.6L92.8 734.8L93.3 734.0L93.7 733.2L94.1 732.4L94.5 731.7L95.0 730.9L95.4 730.1L95.9 729.4L96.4 728.6L96.8 727.9L97.3 727.1L97.8 726.4L98.3 725.7L98.8 724.9L99.4 724.2L99.9 723.5L100.4 722.8L101.0 722.1L101.5 721.4L102.1 720.7L102.7 720.1L103.2 719.4L103.8 718.7L104.4 718.0L105.0 717.4L105.6 716.7L106.3 716.1L106.9 715.4L107.6 714.8L108.2 714.1L108.9 713.5L109.7 712.8L110.4 712.1L111.2 711.4L112.0 710.7L112.9 710.0L113.9 709.2L114.9 708.4L116.0 707.5L117.3 706.6L118.6 705.5L120.1 704.4L121.8 703.2L123.8 701.9L125.9 700.5L128.3 698.9L130.9 697.2L133.9 695.4L137.2 693.4L140.8 691.2L144.8 688.9L149.2 686.4L153.9 683.9L159.0 681.2L164.4 678.4L170.1 675.5L176.2 672.5L182.5 669.5L189.0 666.5L195.7 663.5L202.5 660.6L209.4 657.7L216.3 655.0L223.1 652.3L229.8 649.8L236.3 647.4L242.6 645.2L248.7 643.1L254.4 641.3L259.9 639.6L265.0 638.0L269.7 636.7L274.1 635.5L278.2 634.4L281.8 633.5L285.2 632.7L288.2 632.0L291.0 631.4L293.5 631.0L295.7 630.5L297.7 630.2L299.5 629.9L301.2 629.6L302.7 629.4L304.1 629.2L305.4 629.1L306.6 628.9L307.8 628.8L308.9 628.8L309.9 628.7L310.9 628.6L311.9 628.6L312.8 628.5L313.8 628.5L314.7 628.5ZM315.5 644.1L316.2 644.1L316.9 644.1L317.7 644.1L318.4 644.2L319.1 644.2L319.8 644.3L320.5 644.3L321.2 644.4L321.9 644.5L322.6 644.5L323.3 644.6L324.0 644.7L324.7 644.8L325.4 645.0L326.1 645.1L326.8 645.2L327.5 645.3L328.1 645.5L328.8 645.6L329.5 645.8L330.2 646.0L330.9 646.2L331.6 646.3L332.2 646.5L332.9 646.7L333.6 647.0L334.3 647.2L334.9 647.4L335.6 647.6L336.3 647.9L336.9 648.1L337.6 648.4L338.2 648.6L338.9 648.9L339.5 649.2L340.2 649.5L340.8 649.8L341.5 650.1L342.1 650.4L342.8 650.7L343.5 651.1L344.1 651.4L344.8 651.8L345.5 652.2L346.2 652.6L347.0 653.1L347.7 653.5L348.6 654.0L349.5 654.6L350.4 655.2L351.4 655.9L352.6 656.7L353.8 657.6L355.2 658.6L356.7 659.7L358.4 661.0L360.3 662.5L362.4 664.2L364.7 666.1L367.2 668.2L370.0 670.6L373.0 673.2L376.3 676.2L379.9 679.5L383.6 683.0L387.7 686.9L391.9 691.1L396.3 695.5L400.8 700.2L405.5 705.2L410.2 710.3L415.0 715.6L419.8 721.1L424.5 726.6L429.2 732.1L433.7 737.6L438.1 743.1L442.2 748.4L446.2 753.6L449.9 758.6L453.3 763.3L456.5 767.8L459.4 772.1L462.1 776.0L464.5 779.7L466.7 783.0L468.6 786.1L470.3 788.9L471.8 791.4L473.1 793.7L474.2 795.7L475.2 797.5L476.1 799.2L476.9 800.7L477.6 802.0L478.1 803.2L478.7 804.4L479.1 805.4L479.6 806.3L479.9 807.2L480.3 808.0L480.6 808.8L480.9 809.6L481.2 810.3L481.5 811.1L481.7 811.8L481.9 812.5L482.2 813.2L482.4 813.9L482.6 814.6L482.8 815.2L483.0 815.9L483.2 816.6L483.3 817.3L483.5 818.0L483.6 818.7L483.8 819.4L483.9 820.1L484.1 820.8L484.2 821.5L484.3 822.1L484.4 822.8L484.5 823.5L484.6 824.2L484.7 824.9L484.8 825.6L484.8 826.3L484.9 827.0L484.9 827.7L485.0 828.5L485.0 829.2L485.0 829.9L485.0 830.6L485.0 831.3L485.0 832.0L485.0 832.7L485.0 833.4L485.0 834.1L485.0 834.8L484.9 835.5L484.9 836.2L484.8 836.9L484.7 837.6L484.7 838.3L484.6 839.0L484.5 839.8L484.4 840.5L484.3 841.2L484.2 841.9L484.0 842.7L483.9 843.4L483.7 844.2L483.6 845.0L483.4 845.9L483.2 846.8L482.9 847.7L482.7 848.7L482.4 849.8L482.0 851.0L481.6 852.3L481.2 853.8L480.6 855.4L480.0 857.2L479.3 859.2L478.5 861.5L477.6 864.0L476.5 866.7L475.2 869.8L473.8 873.2L472.2 876.9L470.4 881.0L468.4 885.3L466.2 890.0L463.8 895.0L461.1 900.3L458.2 905.9L455.1 911.7L451.9 917.6L448.5 923.7L444.9 929.9L441.2 936.2L437.4 942.4L433.6 948.5L429.7 954.5L425.9 960.3L422.1 965.9L418.4 971.3L414.8 976.4L411.4 981.1L408.1 985.5L405.0 989.6L402.0 993.4L399.3 996.8L396.8 999.9L394.4 1002.6L392.3 1005.1L390.4 1007.3L388.6 1009.3L387.0 1011.0L385.6 1012.5L384.3 1013.9L383.1 1015.1L382.0 1016.1L381.1 1017.0L380.2 1017.9L379.4 1018.6L378.6 1019.3L377.9 1020.0L377.2 1020.6L376.5 1021.1L375.9 1021.6L375.3 1022.1L374.7 1022.6L374.1 1023.1L373.5 1023.5L372.9 1023.9L372.3 1024.4L371.7 1024.8L371.1 1025.2L370.5 1025.6L369.9 1025.9L369.3 1026.3L368.7 1026.7L368.1 1027.0L367.5 1027.4L366.9 1027.7L366.2 1028.1L365.6 1028.4L365.0 1028.7L364.4 1029.1L363.7 1029.4L363.1 1029.7L362.5 1030.0L361.8 1030.2L361.2 1030.5L360.5 1030.8L359.9 1031.1L359.2 1031.3L358.5 1031.6L357.9 1031.8L357.2 1032.0L356.5 1032.3L355.9 1032.5L355.2 1032.7L354.5 1032.9L353.9 1033.1L353.2 1033.3L352.5 1033.5L351.8 1033.6L351.1 1033.8L350.4 1033.9L349.7 1034.1L349.0 1034.2L348.3 1034.4L347.6 1034.5L346.9 1034.6L346.1 1034.7L345.4 1034.8L344.6 1034.9L343.8 1035.0L343.0 1035.1L342.1 1035.2L341.2 1035.3L340.3 1035.3L339.2 1035.4L338.1 1035.4L336.8 1035.5L335.5 1035.5L333.9 1035.5L332.2 1035.5L330.3 1035.5L328.2 1035.5L325.8 1035.4L323.2 1035.3L320.2 1035.1L316.9 1034.9L313.2 1034.6L309.2 1034.2L304.8 1033.7L300.0 1033.2L294.8 1032.5L289.3 1031.7L283.5 1030.8L277.3 1029.8L270.8 1028.7L264.2 1027.4L257.3 1026.0L250.3 1024.6L243.2 1023.0L236.2 1021.3L229.2 1019.5L222.3 1017.7L215.5 1015.9L209.0 1014.0L202.8 1012.2L196.9 1010.3L191.3 1008.5L186.0 1006.7L181.2 1005.0L176.7 1003.4L172.6 1001.9L168.9 1000.4L165.6 999.1L162.6 997.8L159.9 996.6L157.5 995.6L155.3 994.6L153.4 993.7L151.8 992.9L150.3 992.1L148.9 991.4L147.7 990.8L146.7 990.2L145.7 989.7L144.8 989.1L144.0 988.6L143.2 988.2L142.5 987.7L141.8 987.3L141.1 986.8L140.5 986.4L139.8 986.0L139.2 985.5L138.6 985.1L138.1 984.7L137.5 984.3L136.9 983.8L136.4 983.4L135.8 982.9L135.3 982.5L134.7 982.0L134.2 981.5L133.7 981.1L133.2 980.6L132.7 980.1L132.1 979.6L131.6 979.1L131.2 978.6L130.7 978.1L130.2 977.6L129.7 977.1L129.2 976.6L128.8 976.0L128.3 975.5L127.9 974.9L127.4 974.4L127.0 973.9L126.5 973.3L126.1 972.7L125.7 972.2L125.3 971.6L124.9 971.0L124.5 970.4L124.1 969.9L123.7 969.3L123.3 968.7L122.9 968.1L122.6 967.5L122.2 966.9L121.8 966.2L121.5 965.6L121.1 965.0L120.8 964.4L120.5 963.7L120.1 963.0L119.8 962.4L119.5 961.7L119.1 960.9L118.8 960.2L118.5 959.4L118.1 958.5L117.7 957.6L117.4 956.7L117.0 955.6L116.5 954.4L116.1 953.1L115.6 951.7L115.1 950.1L114.5 948.3L113.9 946.2L113.2 943.9L112.5 941.3L111.8 938.5L111.0 935.2L110.1 931.7L109.2 927.7L108.3 923.4L107.4 918.7L106.4 913.6L105.4 908.1L104.5 902.2L103.5 896.0L102.6 889.6L101.7 882.8L100.9 875.9L100.2 868.7L99.5 861.5L98.9 854.3L98.4 847.1L98.0 840.0L97.7 833.0L97.4 826.2L97.3 819.7L97.2 813.5L97.2 807.6L97.3 802.1L97.4 797.0L97.6 792.2L97.8 787.9L98.0 783.9L98.3 780.3L98.5 777.0L98.8 774.1L99.1 771.5L99.3 769.2L99.6 767.1L99.9 765.2L100.1 763.6L100.4 762.1L100.6 760.8L100.8 759.6L101.0 758.5L101.3 757.4L101.5 756.5L101.7 755.6L101.9 754.8L102.1 754.0L102.3 753.2L102.5 752.5L102.7 751.8L103.0 751.1L103.2 750.4L103.4 749.7L103.7 749.0L103.9 748.3L104.2 747.7L104.4 747.0L104.7 746.3L104.9 745.7L105.2 745.0L105.5 744.4L105.8 743.8L106.1 743.1L106.4 742.5L106.7 741.9L107.1 741.2L107.4 740.6L107.7 740.0L108.1 739.4L108.4 738.8L108.8 738.2L109.2 737.6L109.5 737.0L109.9 736.4L110.3 735.8L110.7 735.2L111.1 734.6L111.5 734.0L111.9 733.5L112.3 732.9L112.8 732.3L113.2 731.8L113.6 731.2L114.1 730.7L114.5 730.1L115.0 729.6L115.5 729.1L115.9 728.5L116.4 728.0L116.9 727.5L117.4 727.0L117.9 726.5L118.5 725.9L119.0 725.4L119.6 724.9L120.2 724.3L120.8 723.8L121.4 723.2L122.1 722.6L122.9 722.0L123.7 721.3L124.6 720.6L125.5 719.8L126.6 719.0L127.9 718.1L129.2 717.1L130.8 716.0L132.5 714.8L134.5 713.5L136.8 712.0L139.3 710.4L142.1 708.6L145.2 706.7L148.7 704.6L152.5 702.4L156.7 700.1L161.3 697.6L166.2 695.0L171.5 692.2L177.1 689.4L182.9 686.6L189.1 683.7L195.5 680.7L202.0 677.8L208.6 675.0L215.3 672.2L222.0 669.4L228.7 666.9L235.2 664.4L241.6 662.1L247.7 659.9L253.6 657.9L259.2 656.1L264.4 654.5L269.4 653.0L273.9 651.7L278.2 650.5L282.0 649.5L285.5 648.7L288.7 647.9L291.6 647.3L294.1 646.7L296.4 646.2L298.5 645.9L300.3 645.5L302.0 645.3L303.5 645.0L304.8 644.9L306.0 644.7L307.1 644.6L308.2 644.5L309.1 644.4L310.0 644.3L310.9 644.2L311.7 644.2L312.5 644.1L313.3 644.1L314.0 644.1L314.8 644.1ZM314.1 676.1L317.7 676.2L321.2 676.2L324.4 676.4L327.4 676.5L330.3 676.7L332.9 676.8L335.3 677.0L337.6 677.3L339.7 677.5L341.6 677.7L343.4 677.9L345.0 678.2L346.5 678.4L347.9 678.6L349.2 678.8L350.4 679.1L351.5 679.3L352.5 679.5L353.5 679.7L354.4 679.9L355.2 680.2L356.1 680.4L356.8 680.6L357.6 680.8L358.3 681.0L359.0 681.2L359.7 681.5L360.4 681.7L361.0 681.9L361.6 682.1L362.3 682.4L362.9 682.6L363.5 682.9L364.1 683.1L364.7 683.4L365.3 683.6L365.9 683.9L366.5 684.2L367.0 684.5L367.6 684.7L368.2 685.0L368.7 685.3L369.3 685.7L369.9 686.0L370.4 686.3L371.0 686.6L371.5 686.9L372.1 687.3L372.6 687.6L373.2 688.0L373.7 688.4L374.2 688.7L374.8 689.1L375.3 689.5L375.8 689.9L376.4 690.3L376.9 690.7L377.5 691.2L378.0 691.6L378.6 692.1L379.1 692.6L379.7 693.1L380.3 693.6L380.9 694.2L381.6 694.8L382.2 695.4L382.9 696.1L383.6 696.8L384.4 697.6L385.2 698.5L386.1 699.4L387.0 700.4L388.0 701.6L389.0 702.8L390.1 704.1L391.3 705.6L392.6 707.2L394.0 708.9L395.4 710.8L397.0 712.9L398.6 715.1L400.3 717.5L402.1 720.2L404.0 723.0L406.0 726.0L408.0 729.1L410.1 732.5L412.3 736.1L414.5 739.8L416.8 743.7L419.1 747.8L421.4 752.0L423.7 756.4L426.0 760.8L428.3 765.3L430.5 769.9L432.7 774.6L434.8 779.2L436.9 783.9L438.9 788.5L440.8 793.1L442.6 797.5L444.3 801.9L445.9 806.2L447.4 810.3L448.8 814.3L450.1 818.2L451.3 821.8L452.4 825.3L453.4 828.6L454.3 831.7L455.1 834.6L455.8 837.4L456.4 839.9L457.0 842.3L457.5 844.5L457.9 846.6L458.3 848.5L458.7 850.2L458.9 851.8L459.2 853.3L459.4 854.7L459.6 856.0L459.7 857.2L459.9 858.3L460.0 859.4L460.1 860.4L460.1 861.3L460.2 862.2L460.3 863.0L460.3 863.9L460.3 864.6L460.3 865.4L460.3 866.1L460.3 866.8L460.3 867.5L460.3 868.2L460.3 868.9L460.3 869.6L460.2 870.2L460.2 870.9L460.1 871.5L460.1 872.2L460.0 872.8L459.9 873.5L459.8 874.1L459.8 874.7L459.7 875.4L459.6 876.0L459.4 876.6L459.3 877.3L459.2 877.9L459.1 878.5L458.9 879.2L458.8 879.8L458.6 880.4L458.5 881.0L458.3 881.7L458.1 882.3L457.9 882.9L457.7 883.5L457.5 884.2L457.3 884.8L457.1 885.4L456.8 886.1L456.6 886.7L456.3 887.4L456.1 888.1L455.8 888.8L455.5 889.5L455.1 890.2L454.8 891.0L454.4 891.7L454.0 892.6L453.6 893.4L453.1 894.4L452.6 895.3L452.0 896.4L451.4 897.5L450.7 898.7L450.0 900.0L449.1 901.3L448.2 902.8L447.2 904.4L446.1 906.1L444.8 907.9L443.5 909.9L442.0 912.0L440.3 914.2L438.6 916.6L436.6 919.1L434.6 921.8L432.3 924.6L429.9 927.5L427.4 930.6L424.6 933.8L421.8 937.0L418.7 940.4L415.6 943.8L412.3 947.3L408.9 950.8L405.4 954.4L401.7 958.0L398.1 961.5L394.3 965.0L390.6 968.5L386.8 971.9L383.0 975.2L379.3 978.5L375.6 981.6L371.9 984.6L368.3 987.4L364.9 990.1L361.5 992.7L358.3 995.1L355.2 997.4L352.2 999.5L349.4 1001.4L346.7 1003.2L344.1 1004.9L341.8 1006.4L339.5 1007.8L337.4 1009.1L335.5 1010.3L333.7 1011.3L332.0 1012.2L330.4 1013.1L329.0 1013.9L327.6 1014.6L326.4 1015.2L325.2 1015.8L324.1 1016.3L323.1 1016.8L322.1 1017.2L321.2 1017.6L320.3 1018.0L319.5 1018.3L318.7 1018.6L318.0 1018.9L317.2 1019.1L316.5 1019.4L315.8 1019.6L315.1 1019.8L314.5 1020.1L313.8 1020.3L313.2 1020.4L312.5 1020.6L311.9 1020.8L311.2 1020.9L310.6 1021.1L310.0 1021.2L309.3 1021.4L308.7 1021.5L308.1 1021.6L307.4 1021.7L306.8 1021.8L306.2 1021.9L305.5 1022.0L304.9 1022.1L304.3 1022.2L303.6 1022.2L303.0 1022.3L302.3 1022.4L301.7 1022.4L301.0 1022.4L300.4 1022.5L299.7 1022.5L299.1 1022.5L298.4 1022.5L297.8 1022.5L297.1 1022.5L296.4 1022.5L295.7 1022.5L295.1 1022.4L294.3 1022.4L293.6 1022.3L292.9 1022.3L292.1 1022.2L291.3 1022.1L290.5 1022.0L289.6 1021.9L288.7 1021.8L287.7 1021.6L286.7 1021.5L285.6 1021.3L284.5 1021.1L283.2 1020.8L281.9 1020.5L280.4 1020.2L278.9 1019.8L277.2 1019.4L275.3 1018.9L273.4 1018.4L271.2 1017.8L269.0 1017.1L266.5 1016.3L263.9 1015.5L261.1 1014.5L258.1 1013.5L254.9 1012.3L251.5 1011.1L248.0 1009.7L244.3 1008.2L240.5 1006.6L236.5 1004.9L232.3 1003.0L228.1 1001.1L223.8 999.0L219.3 996.9L214.9 994.6L210.4 992.3L205.8 989.9L201.3 987.4L196.9 984.9L192.5 982.4L188.1 979.8L183.9 977.2L179.8 974.7L175.9 972.1L172.0 969.6L168.4 967.1L164.9 964.7L161.6 962.4L158.5 960.1L155.6 958.0L152.8 955.9L150.3 953.9L147.9 952.0L145.7 950.2L143.7 948.5L141.9 946.9L140.2 945.4L138.6 944.0L137.2 942.7L135.9 941.5L134.7 940.3L133.6 939.3L132.6 938.3L131.7 937.3L130.9 936.4L130.1 935.6L129.4 934.8L128.8 934.1L128.1 933.4L127.6 932.7L127.0 932.0L126.5 931.4L126.1 930.8L125.6 930.2L125.2 929.6L124.7 929.0L124.3 928.5L123.9 927.9L123.6 927.3L123.2 926.8L122.8 926.2L122.5 925.7L122.2 925.1L121.8 924.5L121.5 924.0L121.2 923.4L120.9 922.8L120.6 922.3L120.3 921.7L120.0 921.1L119.7 920.6L119.4 920.0L119.2 919.4L118.9 918.8L118.6 918.2L118.4 917.6L118.2 917.0L117.9 916.4L117.7 915.8L117.5 915.2L117.3 914.6L117.0 914.0L116.8 913.3L116.6 912.7L116.4 912.1L116.3 911.4L116.1 910.7L115.9 910.0L115.7 909.3L115.5 908.6L115.4 907.9L115.2 907.1L115.0 906.3L114.9 905.4L114.7 904.5L114.6 903.5L114.4 902.5L114.3 901.4L114.1 900.2L114.0 899.0L113.8 897.6L113.7 896.1L113.5 894.5L113.4 892.8L113.3 890.9L113.2 888.9L113.1 886.7L113.1 884.3L113.1 881.7L113.1 878.9L113.1 876.0L113.2 872.8L113.3 869.4L113.5 865.8L113.7 862.0L114.0 858.1L114.3 853.9L114.7 849.6L115.2 845.1L115.7 840.4L116.3 835.7L117.0 830.8L117.8 825.9L118.6 820.9L119.5 815.8L120.4 810.8L121.4 805.8L122.5 800.8L123.6 795.9L124.7 791.1L125.9 786.4L127.1 781.8L128.3 777.4L129.5 773.2L130.7 769.1L131.9 765.3L133.1 761.6L134.3 758.2L135.4 754.9L136.5 751.9L137.6 749.0L138.6 746.4L139.6 744.0L140.6 741.7L141.5 739.6L142.3 737.7L143.1 735.9L143.9 734.3L144.6 732.8L145.3 731.5L145.9 730.2L146.5 729.1L147.1 728.0L147.7 727.0L148.2 726.1L148.7 725.3L149.2 724.5L149.7 723.7L150.1 723.0L150.6 722.3L151.0 721.7L151.4 721.1L151.9 720.5L152.3 719.9L152.7 719.3L153.1 718.8L153.5 718.3L153.9 717.7L154.4 717.2L154.8 716.7L155.2 716.2L155.6 715.7L156.1 715.2L156.5 714.8L157.0 714.3L157.4 713.8L157.9 713.4L158.3 712.9L158.8 712.5L159.2 712.0L159.7 711.6L160.2 711.2L160.7 710.8L161.2 710.3L161.7 709.9L162.2 709.5L162.7 709.1L163.2 708.7L163.7 708.3L164.2 707.9L164.8 707.5L165.3 707.1L165.9 706.8L166.4 706.4L167.0 706.0L167.6 705.6L168.2 705.2L168.9 704.8L169.5 704.4L170.2 704.0L170.9 703.6L171.7 703.2L172.5 702.8L173.4 702.3L174.3 701.9L175.3 701.4L176.4 700.9L177.5 700.4L178.8 699.8L180.1 699.2L181.6 698.6L183.2 697.9L185.0 697.2L186.9 696.5L189.0 695.8L191.3 695.0L193.7 694.1L196.3 693.3L199.2 692.4L202.2 691.5L205.4 690.6L208.9 689.6L212.6 688.7L216.4 687.7L220.5 686.7L224.7 685.8L229.2 684.8L233.7 683.9L238.5 683.0L243.3 682.2L248.2 681.4L253.3 680.6L258.3 679.9L263.4 679.2L268.5 678.6L273.6 678.1L278.6 677.6L283.5 677.2L288.3 676.9L293.0 676.6L297.6 676.4L302.0 676.3L306.2 676.2L310.3 676.1ZM314.0 692.4L317.5 692.4L320.7 692.5L323.8 692.6L326.6 692.7L329.2 692.9L331.7 693.1L333.9 693.3L336.0 693.4L337.9 693.6L339.6 693.8L341.2 694.1L342.6 694.3L344.0 694.5L345.2 694.7L346.3 694.8L347.3 695.0L348.2 695.2L349.0 695.4L349.8 695.6L350.5 695.7L351.2 695.9L351.8 696.1L352.4 696.2L353.0 696.4L353.6 696.6L354.1 696.7L354.6 696.9L355.1 697.1L355.5 697.2L356.0 697.4L356.4 697.6L356.9 697.7L357.3 697.9L357.7 698.1L358.2 698.3L358.6 698.5L359.0 698.6L359.4 698.8L359.8 699.0L360.2 699.2L360.6 699.5L361.0 699.7L361.4 699.9L361.8 700.1L362.2 700.3L362.6 700.6L363.0 700.8L363.4 701.0L363.8 701.3L364.1 701.5L364.5 701.8L364.9 702.1L365.3 702.3L365.7 702.6L366.0 702.9L366.4 703.2L366.8 703.5L367.2 703.8L367.6 704.1L368.0 704.5L368.5 704.8L368.9 705.2L369.3 705.6L369.8 706.1L370.3 706.5L370.8 707.1L371.4 707.6L372.0 708.2L372.6 708.9L373.3 709.6L374.1 710.4L374.8 711.3L375.7 712.2L376.6 713.3L377.6 714.5L378.7 715.8L379.9 717.3L381.1 718.9L382.4 720.6L383.9 722.5L385.4 724.6L387.0 726.9L388.7 729.3L390.5 732.0L392.3 734.8L394.3 737.8L396.3 741.1L398.4 744.5L400.5 748.0L402.6 751.8L404.8 755.7L407.1 759.7L409.3 763.9L411.5 768.2L413.7 772.6L415.8 777.0L417.9 781.5L420.0 785.9L422.0 790.4L423.9 794.9L425.7 799.2L427.5 803.6L429.1 807.8L430.7 811.9L432.1 815.8L433.5 819.6L434.7 823.3L435.8 826.8L436.9 830.1L437.8 833.2L438.6 836.1L439.4 838.8L440.0 841.4L440.6 843.8L441.2 846.0L441.6 848.0L442.0 849.9L442.4 851.6L442.6 853.1L442.9 854.6L443.1 855.9L443.3 857.1L443.5 858.2L443.6 859.2L443.7 860.1L443.8 861.0L443.9 861.8L443.9 862.5L444.0 863.2L444.0 863.9L444.0 864.5L444.1 865.1L444.1 865.7L444.1 866.2L444.1 866.7L444.1 867.2L444.1 867.7L444.0 868.2L444.0 868.7L444.0 869.2L444.0 869.7L443.9 870.1L443.9 870.6L443.8 871.0L443.8 871.5L443.7 871.9L443.7 872.4L443.6 872.8L443.5 873.3L443.4 873.7L443.4 874.2L443.3 874.6L443.2 875.1L443.1 875.5L443.0 875.9L442.9 876.4L442.7 876.8L442.6 877.3L442.5 877.7L442.4 878.2L442.2 878.6L442.1 879.1L441.9 879.5L441.8 880.0L441.6 880.4L441.4 880.9L441.2 881.4L441.0 881.9L440.8 882.4L440.6 882.9L440.3 883.5L440.1 884.1L439.8 884.7L439.4 885.4L439.1 886.1L438.7 886.8L438.3 887.6L437.8 888.5L437.3 889.4L436.7 890.5L436.0 891.6L435.3 892.8L434.4 894.1L433.5 895.5L432.5 897.1L431.4 898.8L430.1 900.6L428.8 902.5L427.2 904.6L425.6 906.8L423.8 909.2L421.8 911.7L419.7 914.4L417.4 917.2L415.0 920.1L412.4 923.1L409.6 926.2L406.7 929.4L403.7 932.7L400.5 936.1L397.2 939.5L393.8 942.9L390.4 946.3L386.8 949.8L383.2 953.1L379.6 956.5L376.0 959.8L372.3 963.0L368.7 966.1L365.2 969.0L361.7 971.9L358.3 974.6L354.9 977.2L351.7 979.7L348.6 982.0L345.7 984.1L342.9 986.1L340.2 988.0L337.7 989.7L335.3 991.3L333.1 992.7L331.0 994.0L329.1 995.2L327.3 996.2L325.6 997.2L324.1 998.0L322.7 998.8L321.4 999.5L320.2 1000.1L319.1 1000.6L318.1 1001.1L317.2 1001.6L316.4 1001.9L315.6 1002.3L314.8 1002.6L314.1 1002.9L313.5 1003.2L312.9 1003.4L312.3 1003.6L311.7 1003.8L311.2 1004.0L310.7 1004.2L310.2 1004.3L309.7 1004.5L309.2 1004.6L308.8 1004.8L308.3 1004.9L307.8 1005.0L307.4 1005.1L306.9 1005.2L306.5 1005.3L306.0 1005.4L305.6 1005.5L305.1 1005.6L304.7 1005.7L304.2 1005.8L303.8 1005.8L303.4 1005.9L302.9 1006.0L302.5 1006.0L302.0 1006.1L301.6 1006.1L301.1 1006.1L300.6 1006.2L300.2 1006.2L299.7 1006.2L299.3 1006.2L298.8 1006.2L298.3 1006.2L297.9 1006.2L297.4 1006.2L296.9 1006.2L296.4 1006.2L295.9 1006.2L295.4 1006.2L294.9 1006.1L294.3 1006.1L293.7 1006.0L293.1 1006.0L292.5 1005.9L291.8 1005.8L291.1 1005.7L290.3 1005.6L289.5 1005.4L288.6 1005.3L287.6 1005.1L286.5 1004.9L285.4 1004.6L284.1 1004.4L282.7 1004.0L281.2 1003.6L279.6 1003.2L277.8 1002.7L275.8 1002.2L273.7 1001.5L271.4 1000.8L269.0 1000.0L266.4 999.1L263.5 998.2L260.5 997.1L257.4 995.9L254.0 994.6L250.5 993.1L246.8 991.6L243.0 990.0L239.0 988.2L235.0 986.3L230.8 984.3L226.6 982.3L222.2 980.1L217.9 977.9L213.6 975.6L209.2 973.2L204.9 970.8L200.7 968.3L196.5 965.9L192.5 963.4L188.5 960.9L184.7 958.5L181.1 956.1L177.6 953.7L174.2 951.4L171.1 949.2L168.1 947.0L165.4 945.0L162.8 943.0L160.4 941.1L158.2 939.4L156.1 937.7L154.2 936.1L152.5 934.6L151.0 933.3L149.6 932.0L148.3 930.8L147.1 929.7L146.1 928.7L145.1 927.8L144.3 926.9L143.5 926.1L142.8 925.3L142.1 924.7L141.6 924.0L141.0 923.4L140.6 922.8L140.1 922.3L139.7 921.8L139.3 921.3L138.9 920.9L138.6 920.4L138.3 920.0L138.0 919.5L137.7 919.1L137.4 918.7L137.1 918.3L136.8 917.9L136.6 917.5L136.3 917.1L136.1 916.7L135.9 916.3L135.6 915.9L135.4 915.5L135.2 915.1L135.0 914.7L134.8 914.3L134.6 913.9L134.4 913.5L134.2 913.1L134.0 912.7L133.8 912.3L133.6 911.9L133.4 911.4L133.3 911.0L133.1 910.6L133.0 910.2L132.8 909.7L132.6 909.3L132.5 908.9L132.3 908.4L132.2 908.0L132.1 907.5L131.9 907.0L131.8 906.5L131.7 906.0L131.5 905.5L131.4 905.0L131.3 904.4L131.1 903.8L131.0 903.2L130.9 902.5L130.8 901.8L130.6 901.0L130.5 900.2L130.4 899.2L130.3 898.3L130.1 897.2L130.0 896.0L129.9 894.7L129.8 893.3L129.7 891.7L129.6 890.1L129.5 888.2L129.4 886.2L129.4 884.0L129.3 881.6L129.3 879.0L129.4 876.2L129.4 873.3L129.5 870.1L129.7 866.7L129.9 863.1L130.2 859.3L130.5 855.3L130.9 851.2L131.3 846.9L131.9 842.4L132.4 837.9L133.1 833.2L133.8 828.4L134.6 823.6L135.5 818.7L136.4 813.9L137.4 809.1L138.4 804.3L139.4 799.5L140.5 794.9L141.7 790.4L142.8 786.0L144.0 781.8L145.1 777.8L146.3 773.9L147.4 770.2L148.6 766.7L149.7 763.4L150.7 760.4L151.8 757.5L152.8 754.9L153.8 752.4L154.7 750.1L155.5 748.1L156.4 746.1L157.1 744.4L157.9 742.8L158.5 741.4L159.2 740.1L159.8 738.9L160.3 737.8L160.9 736.8L161.4 735.9L161.8 735.1L162.2 734.3L162.7 733.7L163.0 733.0L163.4 732.4L163.8 731.9L164.1 731.4L164.4 730.9L164.8 730.4L165.1 730.0L165.4 729.5L165.7 729.1L166.0 728.7L166.3 728.3L166.6 728.0L166.9 727.6L167.2 727.2L167.5 726.9L167.8 726.5L168.1 726.2L168.4 725.9L168.7 725.5L169.0 725.2L169.4 724.9L169.7 724.6L170.0 724.3L170.3 723.9L170.7 723.6L171.0 723.3L171.3 723.0L171.7 722.7L172.0 722.4L172.4 722.2L172.8 721.9L173.1 721.6L173.5 721.3L173.9 721.0L174.2 720.7L174.6 720.5L175.0 720.2L175.4 719.9L175.9 719.6L176.3 719.4L176.8 719.1L177.2 718.8L177.7 718.5L178.3 718.2L178.8 717.9L179.4 717.5L180.1 717.2L180.8 716.8L181.5 716.5L182.3 716.1L183.2 715.6L184.2 715.2L185.3 714.7L186.5 714.2L187.8 713.6L189.3 713.1L190.8 712.4L192.6 711.8L194.5 711.1L196.6 710.4L198.8 709.6L201.3 708.8L203.9 708.0L206.8 707.1L209.8 706.2L213.1 705.3L216.6 704.4L220.3 703.5L224.2 702.6L228.2 701.7L232.5 700.8L236.8 699.9L241.4 699.0L246.0 698.2L250.8 697.4L255.6 696.7L260.5 696.0L265.4 695.4L270.3 694.8L275.2 694.3L280.0 693.9L284.7 693.5L289.4 693.1L293.9 692.9L298.2 692.7L302.5 692.5L306.5 692.4L310.3 692.4ZM246.3 705.6L247.4 705.6L248.6 705.6L250.0 705.7L251.6 705.8L253.5 705.9L255.6 706.0L258.0 706.2L260.8 706.5L263.9 706.8L267.4 707.2L271.3 707.7L275.6 708.3L280.2 709.0L285.2 709.9L290.5 710.8L296.0 711.8L301.7 713.0L307.6 714.2L313.4 715.5L319.3 716.9L325.0 718.3L330.6 719.8L335.9 721.2L340.9 722.7L345.6 724.1L349.9 725.4L353.8 726.7L357.3 727.9L360.5 729.0L363.3 730.0L365.7 731.0L367.9 731.8L369.7 732.5L371.3 733.2L372.7 733.8L373.9 734.3L375.0 734.8L375.9 735.3L376.7 735.7L377.5 736.0L378.1 736.4L378.8 736.7L379.3 737.0L379.9 737.3L380.4 737.7L381.0 738.0L381.5 738.3L382.0 738.6L382.5 738.9L382.9 739.2L383.4 739.5L383.9 739.9L384.4 740.2L384.8 740.5L385.3 740.9L385.7 741.2L386.2 741.6L386.6 741.9L387.1 742.3L387.5 742.7L388.0 743.0L388.4 743.4L388.8 743.8L389.2 744.2L389.6 744.6L390.1 745.0L390.5 745.4L390.9 745.8L391.3 746.2L391.7 746.6L392.0 747.0L392.4 747.5L392.8 747.9L393.2 748.3L393.5 748.8L393.9 749.2L394.3 749.7L394.6 750.1L395.0 750.6L395.3 751.0L395.6 751.5L396.0 751.9L396.3 752.4L396.6 752.9L396.9 753.4L397.2 753.9L397.5 754.3L397.8 754.8L398.1 755.3L398.4 755.8L398.7 756.3L399.0 756.8L399.2 757.3L399.5 757.8L399.8 758.3L400.0 758.9L400.3 759.4L400.5 759.9L400.8 760.5L401.0 761.0L401.2 761.6L401.5 762.2L401.7 762.8L401.9 763.4L402.2 764.1L402.5 764.9L402.7 765.7L403.0 766.6L403.4 767.6L403.7 768.8L404.1 770.1L404.5 771.7L405.0 773.5L405.5 775.6L406.1 777.9L406.7 780.7L407.3 783.7L408.0 787.2L408.8 791.1L409.5 795.3L410.3 800.0L411.0 804.9L411.8 810.3L412.5 815.8L413.2 821.6L413.8 827.5L414.4 833.5L414.8 839.5L415.2 845.4L415.6 851.1L415.8 856.6L416.0 861.8L416.1 866.7L416.2 871.2L416.2 875.4L416.1 879.1L416.1 882.5L416.0 885.4L415.8 888.0L415.7 890.3L415.6 892.3L415.4 894.0L415.3 895.6L415.1 896.9L415.0 898.0L414.9 899.0L414.8 899.9L414.6 900.7L414.5 901.5L414.4 902.2L414.3 902.9L414.1 903.5L414.0 904.1L413.9 904.7L413.7 905.3L413.6 905.8L413.4 906.4L413.3 907.0L413.1 907.5L413.0 908.1L412.8 908.6L412.6 909.2L412.4 909.7L412.2 910.2L412.1 910.8L411.9 911.3L411.6 911.8L411.4 912.4L411.2 912.9L411.0 913.4L410.7 913.9L410.5 914.5L410.3 915.0L410.0 915.5L409.8 916.0L409.5 916.5L409.2 917.0L409.0 917.5L408.7 918.0L408.4 918.5L408.1 919.0L407.8 919.5L407.5 920.0L407.2 920.5L406.9 920.9L406.6 921.4L406.2 921.9L405.9 922.4L405.6 922.8L405.2 923.3L404.9 923.7L404.5 924.2L404.2 924.6L403.8 925.1L403.4 925.5L403.1 925.9L402.7 926.4L402.3 926.8L401.9 927.2L401.5 927.6L401.1 928.0L400.7 928.5L400.3 928.9L399.9 929.3L399.5 929.7L399.0 930.1L398.6 930.5L398.1 930.8L397.7 931.2L397.2 931.7L396.7 932.1L396.2 932.5L395.6 932.9L394.9 933.4L394.3 933.9L393.5 934.5L392.6 935.1L391.6 935.8L390.4 936.6L389.1 937.5L387.5 938.5L385.7 939.6L383.6 940.9L381.2 942.3L378.5 943.9L375.4 945.6L372.0 947.5L368.1 949.6L364.0 951.7L359.5 954.0L354.6 956.3L349.6 958.7L344.3 961.2L338.8 963.6L333.3 966.0L327.8 968.3L322.3 970.5L316.9 972.6L311.8 974.5L306.9 976.3L302.3 977.9L298.0 979.4L294.1 980.6L290.5 981.8L287.3 982.7L284.4 983.5L281.9 984.2L279.7 984.8L277.8 985.3L276.1 985.7L274.6 986.0L273.3 986.3L272.2 986.5L271.2 986.7L270.3 986.9L269.5 987.0L268.7 987.1L268.0 987.2L267.3 987.3L266.7 987.4L266.1 987.4L265.5 987.5L264.9 987.5L264.3 987.6L263.7 987.6L263.1 987.6L262.6 987.7L262.0 987.7L261.4 987.7L260.9 987.7L260.3 987.7L259.7 987.7L259.1 987.6L258.6 987.6L258.0 987.6L257.4 987.5L256.9 987.5L256.3 987.5L255.7 987.4L255.1 987.3L254.6 987.3L254.0 987.2L253.4 987.1L252.9 987.0L252.3 986.9L251.8 986.8L251.2 986.7L250.6 986.6L250.1 986.4L249.5 986.3L249.0 986.2L248.4 986.0L247.9 985.9L247.3 985.7L246.8 985.5L246.2 985.4L245.7 985.2L245.1 985.0L244.6 984.8L244.1 984.6L243.5 984.4L243.0 984.2L242.5 984.0L241.9 983.8L241.4 983.6L240.9 983.3L240.4 983.1L239.8 982.8L239.3 982.6L238.8 982.3L238.3 982.1L237.8 981.8L237.3 981.5L236.8 981.2L236.3 980.9L235.7 980.6L235.2 980.3L234.7 980.0L234.1 979.6L233.6 979.2L233.0 978.8L232.3 978.4L231.6 977.9L230.8 977.3L229.9 976.7L229.0 975.9L227.9 975.1L226.6 974.1L225.2 972.9L223.5 971.5L221.7 969.9L219.6 968.1L217.2 966.0L214.6 963.6L211.8 960.9L208.7 957.9L205.3 954.6L201.8 951.0L198.1 947.1L194.2 943.0L190.3 938.8L186.3 934.3L182.3 929.8L178.4 925.3L174.6 920.7L171.0 916.3L167.5 912.0L164.3 907.9L161.4 904.0L158.7 900.4L156.2 897.0L154.1 894.0L152.2 891.2L150.5 888.8L149.1 886.6L147.8 884.7L146.8 883.0L145.9 881.5L145.1 880.2L144.4 879.0L143.9 878.0L143.4 877.1L143.0 876.3L142.6 875.6L142.2 874.9L141.9 874.3L141.6 873.7L141.4 873.1L141.1 872.5L140.9 872.0L140.6 871.4L140.4 870.9L140.2 870.3L140.0 869.8L139.8 869.2L139.6 868.7L139.4 868.2L139.3 867.6L139.1 867.1L138.9 866.5L138.8 866.0L138.6 865.4L138.5 864.9L138.3 864.3L138.2 863.8L138.1 863.2L138.0 862.6L137.8 862.1L137.7 861.5L137.6 861.0L137.5 860.4L137.5 859.8L137.4 859.3L137.3 858.7L137.2 858.1L137.2 857.5L137.1 857.0L137.1 856.4L137.0 855.8L137.0 855.3L137.0 854.7L137.0 854.1L136.9 853.6L136.9 853.0L136.9 852.4L136.9 851.8L137.0 851.3L137.0 850.7L137.0 850.1L137.0 849.6L137.1 849.0L137.1 848.4L137.2 847.8L137.2 847.3L137.3 846.7L137.4 846.1L137.5 845.6L137.5 845.0L137.6 844.4L137.7 843.9L137.8 843.3L138.0 842.7L138.1 842.1L138.2 841.6L138.4 841.0L138.5 840.3L138.7 839.7L138.9 839.1L139.1 838.3L139.3 837.6L139.5 836.8L139.8 835.8L140.2 834.8L140.6 833.7L141.1 832.3L141.6 830.8L142.3 829.1L143.1 827.1L144.1 824.9L145.2 822.3L146.4 819.4L147.9 816.2L149.6 812.7L151.5 808.8L153.6 804.6L155.9 800.1L158.4 795.4L161.1 790.4L164.0 785.4L167.0 780.2L170.0 775.0L173.2 769.9L176.3 764.9L179.4 760.1L182.4 755.5L185.3 751.1L188.1 747.1L190.7 743.4L193.1 740.1L195.4 737.1L197.4 734.4L199.2 732.1L200.9 730.1L202.3 728.3L203.6 726.8L204.7 725.4L205.7 724.3L206.6 723.3L207.4 722.5L208.1 721.7L208.7 721.1L209.3 720.5L209.9 720.0L210.4 719.5L210.9 719.0L211.3 718.6L211.8 718.1L212.2 717.7L212.7 717.4L213.1 717.0L213.6 716.6L214.0 716.3L214.5 715.9L215.0 715.5L215.4 715.2L215.9 714.9L216.3 714.5L216.8 714.2L217.3 713.9L217.8 713.6L218.3 713.3L218.7 713.0L219.2 712.7L219.7 712.4L220.2 712.1L220.7 711.8L221.2 711.5L221.7 711.3L222.2 711.0L222.7 710.7L223.3 710.5L223.8 710.3L224.3 710.0L224.8 709.8L225.3 709.6L225.9 709.3L226.4 709.1L226.9 708.9L227.5 708.7L228.0 708.5L228.5 708.3L229.1 708.1L229.6 708.0L230.2 707.8L230.7 707.6L231.3 707.5L231.8 707.3L232.4 707.2L232.9 707.0L233.5 706.9L234.0 706.8L234.6 706.7L235.2 706.5L235.7 706.4L236.3 706.3L236.9 706.3L237.4 706.2L238.0 706.1L238.6 706.0L239.2 705.9L239.7 705.9L240.3 705.8L241.0 705.8L241.6 705.7L242.2 705.7L242.9 705.7L243.7 705.6L244.4 705.6L245.3 705.6ZM246.2 721.4L247.1 721.4L248.1 721.4L249.3 721.5L250.8 721.6L252.4 721.7L254.4 721.8L256.6 722.0L259.2 722.2L262.2 722.5L265.5 722.9L269.2 723.4L273.3 724.0L277.8 724.6L282.6 725.4L287.7 726.3L293.0 727.3L298.6 728.5L304.2 729.7L309.9 730.9L315.5 732.3L321.1 733.7L326.5 735.1L331.6 736.5L336.4 737.9L340.9 739.2L345.1 740.5L348.8 741.7L352.2 742.8L355.2 743.9L357.8 744.9L360.1 745.7L362.0 746.5L363.7 747.2L365.2 747.8L366.4 748.3L367.4 748.7L368.3 749.1L369.0 749.5L369.7 749.8L370.3 750.1L370.8 750.4L371.3 750.6L371.7 750.9L372.1 751.1L372.5 751.3L372.8 751.5L373.2 751.7L373.5 751.9L373.9 752.2L374.2 752.4L374.5 752.6L374.8 752.8L375.1 753.0L375.5 753.3L375.8 753.5L376.1 753.7L376.4 754.0L376.7 754.2L377.0 754.5L377.3 754.7L377.6 755.0L377.9 755.2L378.2 755.5L378.4 755.7L378.7 756.0L379.0 756.3L379.3 756.6L379.6 756.8L379.8 757.1L380.1 757.4L380.4 757.7L380.6 758.0L380.9 758.3L381.1 758.6L381.4 758.9L381.6 759.2L381.9 759.5L382.1 759.8L382.3 760.1L382.6 760.4L382.8 760.7L383.0 761.0L383.2 761.3L383.5 761.7L383.7 762.0L383.9 762.3L384.1 762.6L384.3 763.0L384.5 763.3L384.7 763.6L384.9 764.0L385.1 764.3L385.2 764.7L385.4 765.0L385.6 765.4L385.8 765.7L385.9 766.1L386.1 766.4L386.3 766.8L386.4 767.2L386.6 767.6L386.8 768.0L386.9 768.4L387.1 768.9L387.3 769.4L387.5 770.0L387.7 770.6L388.0 771.4L388.2 772.2L388.5 773.2L388.9 774.4L389.3 775.8L389.7 777.4L390.1 779.3L390.7 781.5L391.2 784.0L391.9 786.9L392.5 790.2L393.2 793.9L393.9 798.0L394.7 802.4L395.4 807.2L396.1 812.4L396.8 817.8L397.5 823.4L398.1 829.1L398.6 834.9L399.1 840.7L399.5 846.4L399.8 852.0L400.0 857.3L400.2 862.3L400.3 867.0L400.4 871.3L400.4 875.3L400.3 878.8L400.3 882.0L400.2 884.8L400.1 887.2L399.9 889.3L399.8 891.1L399.7 892.7L399.6 894.0L399.4 895.1L399.3 896.1L399.2 896.9L399.1 897.6L399.0 898.3L398.9 898.8L398.8 899.4L398.7 899.8L398.7 900.3L398.6 900.7L398.5 901.1L398.4 901.5L398.3 901.9L398.2 902.3L398.1 902.7L398.0 903.1L397.9 903.4L397.7 903.8L397.6 904.2L397.5 904.5L397.4 904.9L397.2 905.3L397.1 905.6L397.0 906.0L396.8 906.4L396.7 906.7L396.5 907.1L396.3 907.4L396.2 907.8L396.0 908.1L395.8 908.5L395.7 908.8L395.5 909.2L395.3 909.5L395.1 909.9L394.9 910.2L394.7 910.5L394.5 910.9L394.3 911.2L394.1 911.5L393.9 911.9L393.7 912.2L393.5 912.5L393.3 912.8L393.1 913.1L392.8 913.5L392.6 913.8L392.4 914.1L392.1 914.4L391.9 914.7L391.6 915.0L391.4 915.3L391.1 915.6L390.9 915.9L390.6 916.2L390.3 916.4L390.1 916.7L389.8 917.0L389.5 917.3L389.3 917.6L389.0 917.8L388.7 918.1L388.4 918.4L388.1 918.6L387.8 918.9L387.5 919.2L387.1 919.5L386.7 919.8L386.4 920.1L385.9 920.4L385.4 920.8L384.9 921.2L384.3 921.7L383.5 922.2L382.7 922.8L381.7 923.5L380.5 924.3L379.1 925.2L377.4 926.2L375.5 927.4L373.2 928.7L370.7 930.2L367.7 931.8L364.5 933.6L360.8 935.6L356.8 937.6L352.5 939.8L347.8 942.1L342.9 944.4L337.8 946.8L332.5 949.1L327.1 951.4L321.8 953.7L316.5 955.8L311.3 957.8L306.3 959.7L301.6 961.4L297.1 963.0L293.0 964.4L289.3 965.6L285.9 966.6L282.9 967.5L280.2 968.3L277.8 969.0L275.8 969.5L274.0 969.9L272.5 970.3L271.2 970.6L270.1 970.8L269.2 971.0L268.4 971.2L267.6 971.3L267.0 971.4L266.4 971.5L265.9 971.6L265.4 971.6L265.0 971.7L264.5 971.7L264.1 971.8L263.7 971.8L263.3 971.8L262.9 971.8L262.5 971.9L262.1 971.9L261.7 971.9L261.3 971.9L260.9 971.9L260.6 971.9L260.2 971.9L259.8 971.9L259.4 971.8L259.0 971.8L258.6 971.8L258.2 971.8L257.8 971.7L257.5 971.7L257.1 971.6L256.7 971.6L256.3 971.5L255.9 971.5L255.5 971.4L255.2 971.3L254.8 971.3L254.4 971.2L254.0 971.1L253.6 971.0L253.3 970.9L252.9 970.8L252.5 970.7L252.1 970.6L251.8 970.5L251.4 970.4L251.0 970.3L250.6 970.2L250.3 970.1L249.9 969.9L249.5 969.8L249.2 969.7L248.8 969.5L248.5 969.4L248.1 969.2L247.7 969.1L247.4 968.9L247.0 968.8L246.7 968.6L246.3 968.4L246.0 968.2L245.6 968.1L245.3 967.9L244.9 967.7L244.6 967.5L244.2 967.3L243.9 967.1L243.5 966.9L243.1 966.6L242.7 966.4L242.3 966.1L241.9 965.8L241.4 965.4L240.8 965.0L240.2 964.6L239.5 964.0L238.6 963.4L237.7 962.7L236.6 961.8L235.3 960.7L233.8 959.5L232.0 958.0L230.1 956.3L227.9 954.3L225.4 952.0L222.7 949.4L219.7 946.6L216.5 943.4L213.1 939.9L209.5 936.2L205.8 932.3L202.0 928.1L198.1 923.8L194.2 919.4L190.4 915.0L186.8 910.6L183.2 906.4L179.9 902.2L176.8 898.2L174.0 894.5L171.4 891.0L169.1 887.8L167.0 884.9L165.2 882.3L163.7 880.0L162.3 878.0L161.2 876.2L160.2 874.7L159.4 873.3L158.7 872.2L158.2 871.2L157.7 870.4L157.3 869.6L157.0 869.0L156.7 868.4L156.4 867.9L156.2 867.4L156.0 867.0L155.8 866.6L155.6 866.2L155.4 865.8L155.3 865.4L155.1 865.0L155.0 864.7L154.8 864.3L154.7 863.9L154.6 863.6L154.4 863.2L154.3 862.8L154.2 862.4L154.1 862.1L154.0 861.7L153.9 861.3L153.8 861.0L153.7 860.6L153.6 860.2L153.5 859.8L153.4 859.4L153.4 859.1L153.3 858.7L153.2 858.3L153.2 857.9L153.1 857.5L153.0 857.1L153.0 856.8L152.9 856.4L152.9 856.0L152.9 855.6L152.8 855.2L152.8 854.8L152.8 854.4L152.8 854.1L152.8 853.7L152.7 853.3L152.7 852.9L152.7 852.5L152.7 852.1L152.8 851.7L152.8 851.3L152.8 850.9L152.8 850.6L152.8 850.2L152.9 849.8L152.9 849.4L152.9 849.0L153.0 848.6L153.0 848.2L153.1 847.9L153.2 847.5L153.2 847.1L153.3 846.7L153.4 846.3L153.4 845.9L153.5 845.5L153.6 845.1L153.7 844.7L153.8 844.3L153.9 843.8L154.1 843.3L154.2 842.8L154.4 842.2L154.6 841.6L154.8 840.8L155.1 840.0L155.5 839.0L155.9 837.8L156.4 836.5L157.0 834.9L157.7 833.1L158.6 831.0L159.6 828.7L160.8 825.9L162.2 822.9L163.8 819.5L165.7 815.8L167.7 811.8L169.9 807.4L172.3 802.9L175.0 798.1L177.7 793.2L180.6 788.2L183.6 783.2L186.6 778.2L189.6 773.4L192.6 768.7L195.6 764.2L198.4 760.1L201.0 756.2L203.6 752.7L205.9 749.5L208.0 746.6L209.9 744.1L211.6 741.9L213.1 740.0L214.5 738.4L215.7 737.0L216.7 735.8L217.5 734.8L218.3 734.0L219.0 733.3L219.5 732.6L220.0 732.1L220.5 731.7L220.9 731.3L221.3 730.9L221.6 730.6L222.0 730.2L222.3 730.0L222.6 729.7L222.9 729.4L223.2 729.2L223.5 728.9L223.8 728.7L224.2 728.4L224.5 728.2L224.8 727.9L225.1 727.7L225.4 727.5L225.7 727.3L226.1 727.0L226.4 726.8L226.7 726.6L227.0 726.4L227.4 726.2L227.7 726.0L228.0 725.8L228.4 725.6L228.7 725.4L229.1 725.3L229.4 725.1L229.7 724.9L230.1 724.7L230.4 724.6L230.8 724.4L231.2 724.3L231.5 724.1L231.9 724.0L232.2 723.8L232.6 723.7L233.0 723.5L233.3 723.4L233.7 723.3L234.1 723.1L234.4 723.0L234.8 722.9L235.2 722.8L235.5 722.7L235.9 722.6L236.3 722.5L236.7 722.4L237.0 722.3L237.4 722.2L237.8 722.1L238.2 722.1L238.6 722.0L238.9 721.9L239.3 721.9L239.7 721.8L240.1 721.7L240.5 721.7L240.9 721.7L241.3 721.6L241.7 721.6L242.1 721.5L242.6 721.5L243.1 721.5L243.6 721.5L244.1 721.4L244.7 721.4L245.4 721.4ZM284.0 733.1L284.6 733.1L285.2 733.1L285.8 733.2L286.4 733.2L287.0 733.2L287.6 733.3L288.2 733.3L288.8 733.4L289.4 733.4L290.0 733.5L290.6 733.6L291.2 733.7L291.8 733.8L292.4 733.9L293.0 734.0L293.5 734.1L294.1 734.2L294.7 734.3L295.3 734.5L295.9 734.6L296.5 734.7L297.1 734.9L297.7 735.0L298.2 735.2L298.8 735.4L299.4 735.6L300.0 735.8L300.5 735.9L301.1 736.1L301.7 736.4L302.2 736.6L302.8 736.8L303.4 737.0L303.9 737.2L304.5 737.5L305.0 737.7L305.6 738.0L306.1 738.2L306.6 738.5L307.2 738.8L307.7 739.0L308.3 739.3L308.8 739.6L309.3 739.9L309.8 740.2L310.4 740.5L310.9 740.8L311.4 741.2L312.1 741.6L313.3 742.4L315.6 744.0L320.1 747.1L327.4 752.3L337.4 759.5L348.4 767.7L358.3 775.2L365.4 780.8L369.7 784.2L371.9 786.0L373.0 786.9L373.6 787.5L374.1 787.9L374.6 788.3L375.0 788.8L375.5 789.2L375.9 789.6L376.3 790.0L376.7 790.4L377.2 790.9L377.6 791.3L378.0 791.8L378.4 792.2L378.8 792.7L379.2 793.1L379.6 793.6L379.9 794.0L380.3 794.5L380.7 795.0L381.1 795.5L381.4 796.0L381.8 796.4L382.1 796.9L382.5 797.4L382.8 797.9L383.1 798.4L383.5 798.9L383.8 799.5L384.1 800.0L384.4 800.5L384.7 801.0L385.0 801.5L385.3 802.1L385.6 802.6L385.8 803.1L386.1 803.7L386.4 804.2L386.6 804.8L386.9 805.3L387.1 805.9L387.4 806.4L387.6 807.0L387.8 807.5L388.1 808.1L388.3 808.7L388.5 809.2L388.7 809.8L388.9 810.4L389.1 810.9L389.2 811.5L389.4 812.1L389.6 812.7L389.7 813.2L389.9 813.8L390.0 814.4L390.2 815.0L390.3 815.6L390.4 816.2L390.5 816.8L390.7 817.4L390.8 818.0L390.9 818.6L390.9 819.1L391.0 819.7L391.1 820.3L391.2 820.9L391.2 821.5L391.3 822.1L391.3 822.7L391.4 823.3L391.4 823.9L391.5 824.6L391.5 825.2L391.5 825.8L391.5 826.4L391.5 827.0L391.5 827.6L391.5 828.2L391.5 828.8L391.4 829.4L391.4 830.0L391.3 830.6L391.3 831.2L391.2 831.8L391.2 832.4L391.1 833.0L391.0 833.6L390.9 834.2L390.9 834.8L390.8 835.4L390.7 836.0L390.5 836.6L390.4 837.1L390.3 837.7L390.2 838.3L390.0 838.9L389.9 839.6L389.7 840.4L389.3 841.7L388.5 844.4L387.0 849.6L384.3 858.2L380.5 869.9L376.1 882.9L372.0 894.6L368.9 903.1L366.9 908.2L365.9 910.9L365.4 912.2L365.0 913.0L364.8 913.6L364.5 914.2L364.3 914.7L364.0 915.3L363.8 915.8L363.5 916.3L363.2 916.9L362.9 917.4L362.6 917.9L362.3 918.5L362.0 919.0L361.7 919.5L361.4 920.0L361.1 920.5L360.8 921.0L360.4 921.5L360.1 922.0L359.8 922.5L359.4 923.0L359.1 923.5L358.7 924.0L358.3 924.5L358.0 925.0L357.6 925.4L357.2 925.9L356.8 926.4L356.4 926.8L356.0 927.3L355.6 927.7L355.2 928.2L354.8 928.6L354.4 929.0L354.0 929.5L353.5 929.9L353.1 930.3L352.7 930.7L352.2 931.1L351.8 931.5L351.3 931.9L350.9 932.3L350.4 932.7L349.9 933.1L349.5 933.5L349.0 933.8L348.5 934.2L348.0 934.6L347.5 934.9L347.0 935.3L346.5 935.6L346.0 936.0L345.5 936.3L345.0 936.6L344.5 936.9L344.0 937.2L343.5 937.6L343.0 937.9L342.4 938.1L341.9 938.4L341.4 938.7L340.8 939.0L340.3 939.3L339.8 939.5L339.2 939.8L338.7 940.0L338.1 940.3L337.6 940.5L337.0 940.8L336.4 941.0L335.9 941.2L335.3 941.4L334.8 941.6L334.2 941.8L333.6 942.0L333.0 942.2L332.5 942.4L331.9 942.6L331.3 942.7L330.7 942.9L330.1 943.0L329.6 943.2L329.0 943.3L328.4 943.5L327.8 943.6L327.2 943.7L326.6 943.8L326.0 943.9L325.4 944.0L324.8 944.1L324.2 944.2L323.6 944.3L323.0 944.3L322.4 944.4L321.8 944.4L321.2 944.5L320.6 944.5L319.7 944.6L318.3 944.7L315.5 944.8L310.1 944.9L301.1 945.0L288.8 945.0L275.0 944.8L262.7 944.5L253.6 944.2L248.1 944.0L245.3 943.8L243.9 943.7L243.0 943.6L242.4 943.6L241.8 943.5L241.2 943.4L240.6 943.4L240.0 943.3L239.4 943.2L238.8 943.1L238.2 943.0L237.6 942.9L237.0 942.8L236.4 942.6L235.8 942.5L235.2 942.4L234.7 942.2L234.1 942.1L233.5 941.9L232.9 941.7L232.3 941.6L231.8 941.4L231.2 941.2L230.6 941.0L230.0 940.8L229.5 940.6L228.9 940.4L228.3 940.2L227.8 939.9L227.2 939.7L226.7 939.5L226.1 939.2L225.6 939.0L225.0 938.7L224.5 938.4L224.0 938.2L223.4 937.9L222.9 937.6L222.4 937.3L221.8 937.0L221.3 936.7L220.8 936.4L220.3 936.1L219.8 935.8L219.3 935.5L218.7 935.1L218.2 934.8L217.8 934.5L217.3 934.1L216.8 933.7L216.3 933.4L215.8 933.0L215.3 932.7L214.9 932.3L214.4 931.9L213.9 931.5L213.5 931.1L213.0 930.7L212.6 930.3L212.1 929.9L211.7 929.5L211.3 929.1L210.8 928.6L210.4 928.2L210.0 927.8L209.6 927.3L209.2 926.9L208.8 926.5L208.4 926.0L208.0 925.5L207.6 925.1L207.2 924.6L206.8 924.1L206.5 923.7L206.1 923.2L205.7 922.7L205.4 922.2L205.0 921.7L204.7 921.2L204.3 920.7L204.0 920.2L203.7 919.7L203.4 919.2L203.1 918.7L202.7 918.2L202.4 917.6L202.1 917.1L201.9 916.6L201.6 916.1L201.3 915.5L201.0 915.0L200.8 914.4L200.5 913.9L200.3 913.4L200.0 912.8L199.8 912.2L199.5 911.7L199.3 911.1L199.0 910.3L198.5 909.0L197.5 906.3L195.7 901.2L192.9 892.7L189.0 881.0L185.0 867.9L181.4 856.0L178.9 847.3L177.5 842.0L176.7 839.3L176.4 837.9L176.2 837.1L176.1 836.4L175.9 835.8L175.8 835.2L175.7 834.6L175.6 834.0L175.5 833.4L175.4 832.8L175.3 832.2L175.2 831.7L175.2 831.1L175.1 830.5L175.1 829.9L175.0 829.3L175.0 828.6L174.9 828.0L174.9 827.4L174.9 826.8L174.9 826.2L174.9 825.6L174.9 825.0L174.9 824.4L174.9 823.8L174.9 823.2L174.9 822.6L175.0 822.0L175.0 821.4L175.1 820.8L175.1 820.2L175.2 819.6L175.2 819.0L175.3 818.4L175.4 817.8L175.5 817.2L175.6 816.6L175.7 816.0L175.8 815.4L175.9 814.9L176.0 814.3L176.2 813.7L176.3 813.1L176.5 812.5L176.6 811.9L176.8 811.3L176.9 810.8L177.1 810.2L177.3 809.6L177.5 809.0L177.7 808.5L177.9 807.9L178.1 807.3L178.3 806.8L178.5 806.2L178.7 805.6L179.0 805.1L179.2 804.5L179.5 804.0L179.7 803.4L180.0 802.9L180.2 802.3L180.5 801.8L180.8 801.3L181.1 800.7L181.4 800.2L181.6 799.7L181.9 799.2L182.3 798.6L182.6 798.1L182.9 797.6L183.2 797.1L183.5 796.6L183.9 796.1L184.2 795.6L184.6 795.1L184.9 794.6L185.3 794.1L185.7 793.7L186.0 793.2L186.4 792.7L186.8 792.2L187.2 791.8L187.6 791.3L188.0 790.9L188.4 790.4L188.8 790.0L189.2 789.5L189.6 789.1L190.0 788.7L190.5 788.3L190.9 787.8L191.3 787.4L191.8 787.0L192.2 786.6L192.7 786.2L193.1 785.8L193.7 785.4L194.3 784.9L195.4 784.0L197.6 782.2L201.9 779.0L209.1 773.6L219.1 766.4L230.3 758.4L240.5 751.4L248.0 746.3L252.6 743.3L255.0 741.8L256.2 741.0L256.9 740.6L257.5 740.2L258.0 739.9L258.5 739.6L259.1 739.3L259.6 739.0L260.1 738.8L260.7 738.5L261.2 738.2L261.8 738.0L262.3 737.7L262.9 737.5L263.4 737.2L264.0 737.0L264.5 736.8L265.1 736.6L265.6 736.4L266.2 736.1L266.8 735.9L267.4 735.8L267.9 735.6L268.5 735.4L269.1 735.2L269.7 735.0L270.2 734.9L270.8 734.7L271.4 734.6L272.0 734.5L272.6 734.3L273.2 734.2L273.8 734.1L274.4 734.0L275.0 733.9L275.5 733.8L276.1 733.7L276.7 733.6L277.3 733.5L277.9 733.4L278.5 733.4L279.1 733.3L279.7 733.3L280.3 733.2L280.9 733.2L281.5 733.2L282.1 733.1L282.8 733.1L283.4 733.1ZM283.9 749.4L284.3 749.4L284.7 749.4L285.1 749.4L285.5 749.5L285.9 749.5L286.3 749.5L286.8 749.5L287.2 749.6L287.6 749.6L288.0 749.7L288.4 749.7L288.8 749.8L289.2 749.9L289.6 749.9L290.0 750.0L290.4 750.1L290.8 750.1L291.2 750.2L291.7 750.3L292.1 750.4L292.5 750.5L292.9 750.6L293.3 750.7L293.7 750.8L294.0 751.0L294.4 751.1L294.8 751.2L295.2 751.3L295.6 751.5L296.0 751.6L296.4 751.8L296.8 751.9L297.2 752.1L297.5 752.2L297.9 752.4L298.3 752.6L298.7 752.7L299.1 752.9L299.4 753.1L299.8 753.3L300.2 753.5L300.5 753.7L300.9 753.9L301.2 754.1L301.6 754.3L302.0 754.5L302.3 754.7L302.7 755.0L303.3 755.3L304.3 756.0L306.5 757.4L310.8 760.4L317.9 765.5L327.8 772.6L338.6 780.7L348.3 788.1L355.3 793.6L359.4 796.9L361.5 798.6L362.4 799.4L362.9 799.8L363.3 800.1L363.6 800.4L363.9 800.7L364.2 801.0L364.5 801.2L364.8 801.5L365.1 801.8L365.4 802.1L365.7 802.4L365.9 802.7L366.2 803.0L366.5 803.3L366.8 803.7L367.0 804.0L367.3 804.3L367.5 804.6L367.8 804.9L368.1 805.3L368.3 805.6L368.5 805.9L368.8 806.3L369.0 806.6L369.2 807.0L369.5 807.3L369.7 807.7L369.9 808.0L370.1 808.4L370.3 808.7L370.5 809.1L370.8 809.4L370.9 809.8L371.1 810.2L371.3 810.5L371.5 810.9L371.7 811.3L371.9 811.6L372.0 812.0L372.2 812.4L372.4 812.8L372.5 813.2L372.7 813.5L372.8 813.9L373.0 814.3L373.1 814.7L373.3 815.1L373.4 815.5L373.5 815.9L373.7 816.3L373.8 816.7L373.9 817.1L374.0 817.5L374.1 817.9L374.2 818.3L374.3 818.7L374.4 819.1L374.5 819.5L374.6 819.9L374.6 820.3L374.7 820.7L374.8 821.1L374.8 821.5L374.9 821.9L374.9 822.3L375.0 822.7L375.0 823.2L375.1 823.6L375.1 824.0L375.1 824.4L375.2 824.8L375.2 825.2L375.2 825.6L375.2 826.0L375.2 826.5L375.2 826.9L375.2 827.3L375.2 827.7L375.2 828.1L375.2 828.5L375.1 828.9L375.1 829.3L375.1 829.8L375.0 830.2L375.0 830.6L374.9 831.0L374.9 831.4L374.8 831.8L374.8 832.2L374.7 832.6L374.6 833.0L374.6 833.4L374.5 833.8L374.4 834.3L374.3 834.7L374.2 835.1L374.1 835.5L373.9 836.2L373.6 837.3L372.9 839.8L371.4 844.8L368.8 853.2L365.0 864.8L360.7 877.6L356.6 889.1L353.6 897.5L351.7 902.4L350.8 904.9L350.3 906.0L350.1 906.6L349.9 907.1L349.7 907.5L349.5 907.8L349.3 908.2L349.2 908.6L349.0 909.0L348.8 909.3L348.6 909.7L348.4 910.0L348.2 910.4L348.0 910.8L347.8 911.1L347.6 911.5L347.3 911.8L347.1 912.2L346.9 912.5L346.7 912.9L346.4 913.2L346.2 913.5L345.9 913.9L345.7 914.2L345.4 914.5L345.2 914.9L344.9 915.2L344.7 915.5L344.4 915.8L344.1 916.1L343.9 916.4L343.6 916.8L343.3 917.1L343.0 917.4L342.7 917.7L342.4 917.9L342.1 918.2L341.8 918.5L341.5 918.8L341.2 919.1L340.9 919.4L340.6 919.6L340.3 919.9L340.0 920.2L339.7 920.4L339.4 920.7L339.0 920.9L338.7 921.2L338.4 921.4L338.0 921.7L337.7 921.9L337.4 922.2L337.0 922.4L336.7 922.6L336.3 922.8L336.0 923.1L335.6 923.3L335.3 923.5L334.9 923.7L334.5 923.9L334.2 924.1L333.8 924.3L333.4 924.5L333.1 924.7L332.7 924.9L332.3 925.0L332.0 925.2L331.6 925.4L331.2 925.5L330.8 925.7L330.4 925.8L330.0 926.0L329.7 926.1L329.3 926.3L328.9 926.4L328.5 926.6L328.1 926.7L327.7 926.8L327.3 926.9L326.9 927.0L326.5 927.1L326.1 927.3L325.7 927.4L325.3 927.4L324.9 927.5L324.5 927.6L324.1 927.7L323.7 927.8L323.3 927.9L322.9 927.9L322.5 928.0L322.0 928.0L321.6 928.1L321.2 928.1L320.8 928.2L320.4 928.2L320.0 928.3L319.5 928.3L318.9 928.3L317.6 928.4L315.0 928.5L309.8 928.6L301.0 928.7L288.9 928.7L275.3 928.5L263.1 928.3L254.3 927.9L249.0 927.7L246.3 927.5L245.1 927.5L244.5 927.4L244.0 927.4L243.6 927.3L243.2 927.3L242.7 927.2L242.3 927.2L241.9 927.1L241.5 927.0L241.1 927.0L240.7 926.9L240.3 926.8L239.9 926.7L239.5 926.6L239.1 926.5L238.7 926.4L238.3 926.3L237.9 926.2L237.5 926.1L237.1 926.0L236.7 925.9L236.3 925.7L235.9 925.6L235.5 925.5L235.1 925.3L234.7 925.2L234.4 925.0L234.0 924.9L233.6 924.7L233.2 924.5L232.8 924.4L232.5 924.2L232.1 924.0L231.7 923.8L231.3 923.7L231.0 923.5L230.6 923.3L230.3 923.1L229.9 922.9L229.5 922.7L229.2 922.5L228.8 922.2L228.5 922.0L228.1 921.8L227.8 921.6L227.4 921.3L227.1 921.1L226.8 920.9L226.4 920.6L226.1 920.4L225.8 920.1L225.4 919.9L225.1 919.6L224.8 919.4L224.5 919.1L224.2 918.8L223.9 918.5L223.5 918.3L223.2 918.0L222.9 917.7L222.6 917.4L222.4 917.1L222.1 916.8L221.8 916.5L221.5 916.2L221.2 915.9L220.9 915.6L220.7 915.3L220.4 915.0L220.1 914.7L219.9 914.4L219.6 914.0L219.3 913.7L219.1 913.4L218.9 913.1L218.6 912.7L218.4 912.4L218.1 912.0L217.9 911.7L217.7 911.4L217.5 911.0L217.2 910.7L217.0 910.3L216.8 909.9L216.6 909.6L216.4 909.2L216.2 908.9L216.0 908.5L215.8 908.1L215.6 907.8L215.4 907.4L215.3 907.0L215.1 906.6L214.9 906.3L214.8 905.9L214.6 905.5L214.4 905.1L214.2 904.4L213.8 903.3L212.9 900.8L211.1 895.9L208.3 887.6L204.6 876.0L200.5 863.1L197.0 851.4L194.6 842.9L193.2 837.8L192.5 835.2L192.2 834.0L192.1 833.4L192.0 832.9L191.9 832.5L191.8 832.1L191.7 831.7L191.6 831.3L191.6 830.9L191.5 830.5L191.5 830.1L191.4 829.7L191.4 829.3L191.3 828.8L191.3 828.4L191.2 828.0L191.2 827.6L191.2 827.2L191.2 826.8L191.2 826.4L191.1 826.0L191.1 825.5L191.1 825.1L191.1 824.7L191.2 824.3L191.2 823.9L191.2 823.5L191.2 823.1L191.2 822.6L191.3 822.2L191.3 821.8L191.4 821.4L191.4 821.0L191.5 820.6L191.5 820.2L191.6 819.8L191.6 819.4L191.7 819.0L191.8 818.6L191.9 818.1L192.0 817.7L192.1 817.3L192.1 816.9L192.2 816.5L192.4 816.1L192.5 815.7L192.6 815.3L192.7 814.9L192.8 814.5L192.9 814.2L193.1 813.8L193.2 813.4L193.4 813.0L193.5 812.6L193.7 812.2L193.8 811.8L194.0 811.4L194.1 811.1L194.3 810.7L194.5 810.3L194.7 809.9L194.8 809.6L195.0 809.2L195.2 808.8L195.4 808.5L195.6 808.1L195.8 807.7L196.0 807.4L196.2 807.0L196.4 806.7L196.7 806.3L196.9 806.0L197.1 805.6L197.3 805.3L197.6 804.9L197.8 804.6L198.1 804.3L198.3 803.9L198.6 803.6L198.8 803.3L199.1 803.0L199.3 802.6L199.6 802.3L199.9 802.0L200.1 801.7L200.4 801.4L200.7 801.1L201.0 800.8L201.3 800.5L201.6 800.2L201.8 799.9L202.1 799.6L202.4 799.3L202.7 799.1L203.1 798.8L203.4 798.5L203.7 798.2L204.1 797.9L204.6 797.5L205.5 796.8L207.6 795.1L211.7 792.0L218.8 786.7L228.6 779.6L239.7 771.8L249.7 764.8L257.0 759.9L261.4 757.0L263.7 755.5L264.7 754.9L265.3 754.5L265.7 754.3L266.1 754.1L266.4 753.9L266.8 753.7L267.2 753.5L267.5 753.3L267.9 753.1L268.3 752.9L268.6 752.7L269.0 752.6L269.4 752.4L269.8 752.2L270.2 752.1L270.5 751.9L270.9 751.8L271.3 751.6L271.7 751.5L272.1 751.3L272.5 751.2L272.9 751.1L273.3 751.0L273.7 750.8L274.1 750.7L274.5 750.6L274.9 750.5L275.3 750.4L275.7 750.3L276.1 750.2L276.5 750.1L276.9 750.1L277.3 750.0L277.7 749.9L278.1 749.9L278.5 749.8L278.9 749.7L279.3 749.7L279.7 749.6L280.1 749.6L280.6 749.5L281.0 749.5L281.4 749.5L281.8 749.5L282.2 749.4L282.6 749.4L283.0 749.4L283.5 749.4ZM283.6 774.7L283.9 774.7L284.2 774.8L284.4 774.8L284.7 774.8L285.0 774.8L285.2 774.8L285.5 774.8L285.8 774.9L286.0 774.9L286.3 774.9L286.6 774.9L286.8 775.0L287.1 775.0L287.4 775.1L287.6 775.1L287.9 775.2L288.1 775.2L288.4 775.3L288.7 775.3L288.9 775.4L289.2 775.5L289.4 775.5L289.7 775.6L289.9 775.7L290.2 775.7L290.5 775.8L290.7 775.9L291.0 776.0L291.2 776.1L291.5 776.2L291.7 776.3L292.0 776.4L292.2 776.5L292.5 776.6L292.7 776.7L292.9 776.8L293.2 776.9L293.5 777.0L293.7 777.1L294.0 777.3L294.3 777.5L294.7 777.7L295.2 777.9L295.8 778.3L296.6 778.7L297.6 779.3L298.9 780.1L300.5 781.1L302.6 782.4L305.0 784.0L307.8 785.9L310.9 788.1L314.3 790.5L317.9 793.1L321.4 795.7L324.9 798.4L328.2 800.9L331.1 803.3L333.7 805.4L335.9 807.2L337.6 808.7L339.1 810.0L340.2 811.0L341.0 811.8L341.6 812.4L342.1 812.8L342.5 813.2L342.8 813.5L343.1 813.8L343.3 814.0L343.5 814.2L343.7 814.4L343.9 814.6L344.0 814.8L344.2 815.0L344.4 815.3L344.5 815.5L344.7 815.7L344.9 815.9L345.0 816.1L345.2 816.3L345.3 816.5L345.5 816.7L345.6 817.0L345.8 817.2L345.9 817.4L346.1 817.6L346.2 817.9L346.3 818.1L346.5 818.3L346.6 818.6L346.7 818.8L346.9 819.0L347.0 819.3L347.1 819.5L347.2 819.7L347.3 820.0L347.4 820.2L347.5 820.5L347.7 820.7L347.8 821.0L347.9 821.2L347.9 821.5L348.0 821.7L348.1 822.0L348.2 822.2L348.3 822.5L348.4 822.7L348.5 823.0L348.5 823.2L348.6 823.5L348.7 823.7L348.8 824.0L348.8 824.2L348.9 824.5L348.9 824.8L349.0 825.0L349.0 825.3L349.1 825.5L349.1 825.8L349.2 826.1L349.2 826.3L349.3 826.6L349.3 826.9L349.3 827.1L349.4 827.4L349.4 827.7L349.4 827.9L349.4 828.2L349.4 828.5L349.5 828.7L349.5 829.0L349.5 829.3L349.5 829.5L349.5 829.8L349.5 830.1L349.5 830.3L349.5 830.6L349.4 830.9L349.4 831.1L349.4 831.4L349.4 831.6L349.4 831.9L349.3 832.2L349.3 832.5L349.3 832.7L349.2 833.0L349.2 833.4L349.1 833.7L349.0 834.2L348.9 834.7L348.8 835.4L348.6 836.2L348.4 837.4L348.0 838.9L347.5 840.8L346.9 843.1L346.2 845.9L345.2 849.1L344.1 852.8L342.9 856.7L341.5 860.9L340.1 865.1L338.7 869.3L337.3 873.1L335.9 876.7L334.7 879.8L333.6 882.4L332.7 884.6L332.0 886.3L331.4 887.7L330.9 888.7L330.5 889.5L330.2 890.1L330.0 890.6L329.8 891.0L329.6 891.3L329.5 891.6L329.3 891.8L329.2 892.1L329.1 892.3L328.9 892.5L328.8 892.8L328.6 893.0L328.5 893.2L328.3 893.4L328.2 893.6L328.0 893.9L327.9 894.1L327.7 894.3L327.6 894.5L327.4 894.7L327.2 894.9L327.1 895.1L326.9 895.3L326.7 895.5L326.5 895.7L326.4 895.9L326.2 896.1L326.0 896.3L325.8 896.5L325.6 896.7L325.4 896.9L325.2 897.1L325.0 897.3L324.8 897.4L324.7 897.6L324.5 897.8L324.2 898.0L324.0 898.1L323.8 898.3L323.6 898.5L323.4 898.6L323.2 898.8L323.0 899.0L322.8 899.1L322.6 899.3L322.3 899.4L322.1 899.6L321.9 899.7L321.7 899.9L321.5 900.0L321.2 900.1L321.0 900.3L320.8 900.4L320.5 900.5L320.3 900.7L320.1 900.8L319.8 900.9L319.6 901.0L319.3 901.1L319.1 901.3L318.9 901.4L318.6 901.5L318.4 901.6L318.1 901.7L317.9 901.8L317.6 901.9L317.4 902.0L317.1 902.1L316.9 902.2L316.6 902.2L316.4 902.3L316.1 902.4L315.9 902.5L315.6 902.6L315.4 902.6L315.1 902.7L314.8 902.8L314.6 902.8L314.3 902.9L314.1 902.9L313.8 903.0L313.5 903.0L313.2 903.1L312.9 903.1L312.5 903.2L312.1 903.3L311.6 903.3L310.9 903.4L310.0 903.5L308.8 903.6L307.3 903.7L305.4 903.9L303.0 904.0L300.1 904.1L296.7 904.3L292.9 904.4L288.7 904.4L284.3 904.4L279.9 904.3L275.5 904.2L271.4 904.1L267.6 903.9L264.3 903.7L261.5 903.5L259.1 903.3L257.2 903.2L255.8 903.0L254.6 902.9L253.7 902.8L253.1 902.7L252.6 902.6L252.1 902.5L251.8 902.5L251.5 902.4L251.2 902.3L250.9 902.3L250.6 902.2L250.4 902.2L250.1 902.1L249.8 902.0L249.6 902.0L249.3 901.9L249.1 901.8L248.8 901.7L248.6 901.6L248.3 901.6L248.1 901.5L247.8 901.4L247.6 901.3L247.3 901.2L247.1 901.1L246.8 901.0L246.6 900.9L246.3 900.8L246.1 900.7L245.9 900.6L245.6 900.4L245.4 900.3L245.1 900.2L244.9 900.1L244.7 899.9L244.4 899.8L244.2 899.7L244.0 899.5L243.8 899.4L243.5 899.3L243.3 899.1L243.1 899.0L242.9 898.8L242.6 898.7L242.4 898.5L242.2 898.4L242.0 898.2L241.8 898.0L241.6 897.9L241.4 897.7L241.2 897.5L241.0 897.4L240.8 897.2L240.6 897.0L240.4 896.8L240.2 896.7L240.0 896.5L239.8 896.3L239.6 896.1L239.4 895.9L239.2 895.7L239.0 895.5L238.8 895.3L238.7 895.1L238.5 894.9L238.3 894.7L238.2 894.5L238.0 894.3L237.8 894.1L237.7 893.9L237.5 893.7L237.3 893.5L237.2 893.3L237.0 893.1L236.9 892.8L236.7 892.6L236.6 892.4L236.4 892.2L236.3 891.9L236.1 891.7L236.0 891.5L235.9 891.2L235.7 891.0L235.6 890.8L235.5 890.5L235.3 890.2L235.2 889.9L235.0 889.5L234.7 889.0L234.4 888.4L234.1 887.5L233.6 886.5L233.0 885.1L232.3 883.3L231.4 881.0L230.4 878.3L229.2 875.1L228.0 871.5L226.6 867.6L225.3 863.4L224.0 859.2L222.7 855.0L221.6 851.0L220.6 847.4L219.7 844.2L219.0 841.4L218.5 839.1L218.1 837.3L217.8 835.8L217.6 834.7L217.4 833.8L217.3 833.2L217.2 832.7L217.1 832.2L217.1 831.9L217.0 831.5L217.0 831.3L217.0 831.0L216.9 830.7L216.9 830.4L216.9 830.2L216.9 829.9L216.9 829.6L216.9 829.4L216.9 829.1L216.9 828.8L216.9 828.6L216.9 828.3L216.9 828.0L216.9 827.8L216.9 827.5L216.9 827.2L216.9 827.0L216.9 826.7L217.0 826.4L217.0 826.2L217.0 825.9L217.1 825.6L217.1 825.4L217.1 825.1L217.2 824.9L217.2 824.6L217.3 824.3L217.3 824.1L217.4 823.8L217.4 823.5L217.5 823.3L217.6 823.0L217.6 822.8L217.7 822.5L217.8 822.3L217.9 822.0L217.9 821.8L218.0 821.5L218.1 821.2L218.2 821.0L218.3 820.7L218.4 820.5L218.5 820.2L218.6 820.0L218.7 819.8L218.8 819.5L218.9 819.3L219.0 819.0L219.1 818.8L219.2 818.5L219.4 818.3L219.5 818.1L219.6 817.8L219.7 817.6L219.9 817.4L220.0 817.1L220.1 816.9L220.3 816.7L220.4 816.5L220.5 816.2L220.7 816.0L220.8 815.8L221.0 815.6L221.1 815.4L221.3 815.1L221.5 814.9L221.6 814.7L221.8 814.5L222.0 814.3L222.1 814.1L222.3 813.9L222.5 813.7L222.6 813.5L222.8 813.3L223.0 813.1L223.2 812.9L223.4 812.7L223.6 812.4L223.9 812.2L224.2 811.9L224.6 811.5L225.1 811.0L225.8 810.4L226.7 809.6L227.8 808.6L229.3 807.4L231.2 805.9L233.4 804.1L236.1 802.0L239.1 799.7L242.5 797.2L246.0 794.6L249.7 792.0L253.2 789.6L256.7 787.2L259.8 785.2L262.6 783.4L265.0 781.9L267.0 780.6L268.7 779.7L270.0 778.9L270.9 778.4L271.7 778.0L272.3 777.6L272.8 777.4L273.2 777.2L273.5 777.1L273.8 776.9L274.1 776.8L274.3 776.7L274.6 776.6L274.8 776.5L275.1 776.4L275.3 776.3L275.6 776.2L275.8 776.1L276.1 776.0L276.3 775.9L276.6 775.8L276.8 775.7L277.1 775.7L277.3 775.6L277.6 775.5L277.8 775.5L278.1 775.4L278.4 775.3L278.6 775.3L278.9 775.2L279.1 775.2L279.4 775.1L279.7 775.1L279.9 775.0L280.2 775.0L280.5 774.9L280.7 774.9L281.0 774.9L281.3 774.9L281.5 774.8L281.8 774.8L282.0 774.8L282.3 774.8L282.6 774.8L282.8 774.8L283.1 774.7L283.4 774.7Z" fill="none" stroke="#000" stroke-width="2.5" stroke-linejoin="round"/>
<text x="-0.50" y="0" font-size="100" font-weight="bold" transform="translate(40.2 1177.29) scale(0.5079 0.4811)">*</text>
<text x="-6.50" y="0" font-size="100" fill="#000" font-weight="bold" transform="translate(80.00 1184.00) scale(0.5583 0.5768)">Крепеж приложен в комплекте</text>
</svg></body></html>
